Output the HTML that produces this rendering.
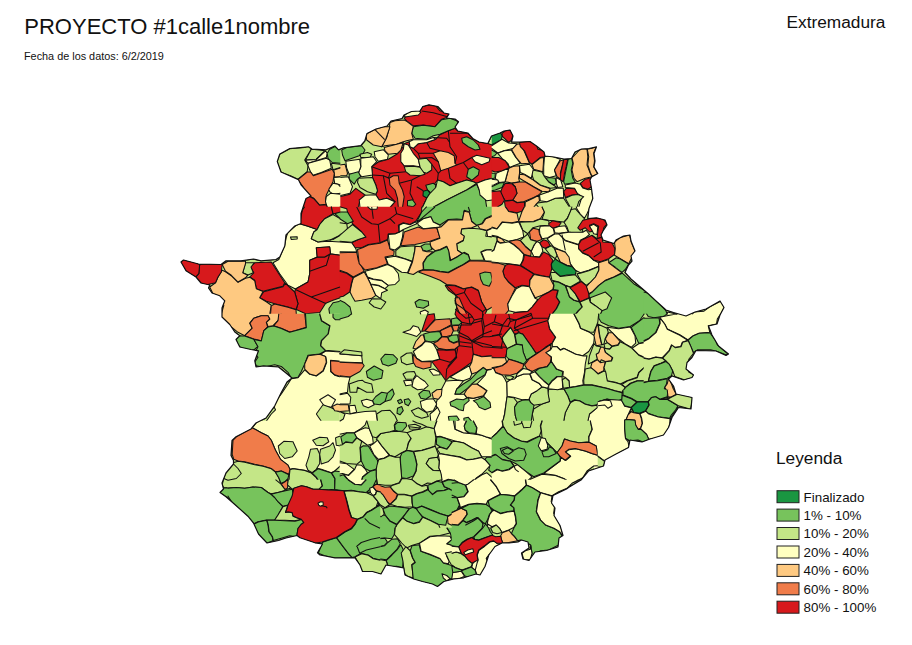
<!DOCTYPE html>
<html><head><meta charset="utf-8"><title>Extremadura</title>
<style>
html,body{margin:0;padding:0;background:#fff;}
body{width:912px;height:645px;position:relative;overflow:hidden;font-family:"Liberation Sans",sans-serif;color:#111;}
.t{position:absolute;white-space:nowrap;line-height:1;}
#title{left:24.3px;top:15.9px;font-size:22px;}
#date{left:24px;top:51.3px;font-size:10.85px;}
#reg{left:786.5px;top:13.6px;font-size:17.3px;}
#leg{left:776px;top:450.3px;font-size:17.3px;}
.li{left:803.6px;font-size:13.35px;}
</style></head><body>
<svg width="912" height="645" viewBox="0 0 912 645" style="position:absolute;left:0;top:0">
<defs><clipPath id="cp"><path d="M277.3 161.5 L279.8 154.0 L289.8 148.5 L308.5 146.8 L312.0 149.0 L326.0 149.8 L334.8 146.0 L338.5 149.8 L343.5 147.8 L361.0 145.5 L364.8 141.0 L367.0 133.5 L376.0 129.0 L387.0 126.0 L391.0 121.0 L402.0 118.5 L404.0 115.0 L411.5 111.5 L420.0 111.0 L422.8 106.5 L429.0 104.8 L437.8 106.5 L444.0 113.0 L449.0 114.0 L446.5 118.0 L455.0 119.0 L458.5 121.8 L455.0 127.0 L457.8 131.0 L467.8 133.0 L472.8 138.5 L479.0 142.0 L487.8 143.5 L491.5 136.0 L500.0 133.0 L504.0 131.0 L510.0 130.0 L513.0 136.0 L511.5 142.0 L519.5 142.0 L530.0 141.5 L536.5 146.0 L544.0 152.0 L545.0 156.0 L554.0 157.0 L564.0 159.0 L571.5 158.5 L575.0 152.0 L581.5 149.0 L589.0 148.5 L596.5 146.8 L594.0 153.5 L595.0 161.0 L594.0 167.0 L597.8 173.5 L591.5 177.0 L590.0 180.0 L591.5 188.5 L592.8 198.5 L589.0 208.5 L587.8 218.5 L596.5 217.8 L605.0 220.0 L607.0 225.0 L603.0 231.0 L601.0 235.0 L603.0 240.0 L614.0 243.5 L616.0 240.0 L623.5 236.0 L630.0 235.0 L631.0 241.0 L635.0 251.0 L631.0 256.0 L632.0 261.0 L628.5 265.0 L625.0 272.5 L631.0 279.0 L648.5 294.0 L656.0 301.0 L666.0 310.0 L673.5 312.5 L686.0 316.0 L695.0 312.0 L706.0 309.0 L720.0 301.0 L724.0 307.5 L720.0 315.0 L717.0 324.0 L708.5 326.0 L712.0 335.0 L718.5 346.0 L728.5 354.0 L726.0 355.5 L716.0 351.0 L696.0 350.5 L692.0 357.5 L687.0 362.5 L686.0 369.0 L693.5 375.0 L692.0 377.5 L683.5 380.0 L672.0 376.0 L668.5 379.0 L673.5 386.0 L676.0 394.0 L692.0 397.5 L691.0 409.0 L678.5 407.5 L672.0 417.5 L668.5 427.5 L663.5 435.0 L650.0 439.0 L642.0 442.0 L630.0 440.0 L628.5 447.5 L616.0 454.0 L605.0 460.0 L603.5 466.0 L588.5 471.0 L581.0 480.0 L568.5 487.5 L566.5 489.0 L553.0 495.5 L551.5 503.0 L555.0 508.0 L554.0 515.5 L560.0 525.5 L563.0 535.5 L559.0 538.0 L558.0 547.0 L546.5 550.5 L535.0 552.0 L529.0 560.5 L523.0 559.0 L521.5 553.0 L529.0 548.0 L528.0 542.0 L521.5 540.0 L518.0 542.0 L509.0 543.0 L502.5 542.8 L495.0 546.5 L488.8 555.0 L485.0 566.5 L480.0 575.0 L476.0 574.0 L463.8 577.8 L453.8 579.0 L443.8 581.5 L437.5 586.5 L432.5 584.0 L422.5 581.5 L413.8 579.0 L405.0 575.0 L403.8 567.8 L395.0 566.5 L386.0 565.0 L381.0 574.0 L372.5 571.5 L362.5 571.5 L360.0 565.0 L355.0 557.8 L335.0 557.8 L320.0 555.0 L317.5 552.8 L322.5 544.0 L315.0 542.8 L300.0 537.8 L297.0 535.5 L286.0 538.0 L278.5 540.5 L267.0 543.0 L258.5 534.0 L253.5 523.0 L248.5 516.8 L236.0 505.5 L226.0 496.8 L220.0 492.5 L223.5 489.0 L222.0 483.0 L226.0 473.0 L233.5 464.0 L233.5 460.5 L231.0 455.5 L232.0 440.5 L236.0 436.8 L251.0 429.0 L256.0 423.0 L266.0 418.0 L274.8 405.8 L281.0 393.0 L287.0 382.0 L292.0 378.0 L286.0 373.0 L278.5 367.0 L263.5 365.8 L256.0 367.0 L254.8 360.8 L258.5 350.8 L251.0 349.5 L239.8 347.0 L236.0 339.5 L239.8 335.8 L234.8 332.0 L229.8 324.5 L222.0 317.0 L222.0 308.0 L224.8 300.8 L219.8 295.8 L212.0 293.0 L208.5 288.0 L209.8 285.0 L201.0 283.0 L196.0 277.0 L186.0 270.8 L181.0 262.0 L183.5 260.0 L198.5 264.0 L221.0 264.5 L226.0 260.8 L241.0 260.8 L253.5 259.0 L261.0 260.8 L276.0 259.5 L279.8 257.0 L284.8 246.0 L286.0 234.8 L294.8 226.0 L301.0 223.5 L301.0 213.5 L306.0 198.5 L311.0 196.0 L301.0 184.8 L298.5 179.8 L281.0 172.0Z"/></clipPath></defs>
<g stroke="#111" stroke-width="1.05" stroke-linejoin="round"><g clip-path="url(#cp)">
<path d="M277.3 161.5 L279.8 154.0 L289.8 148.5 L308.5 146.8 L312.0 149.0 L326.0 149.8 L334.8 146.0 L338.5 149.8 L343.5 147.8 L361.0 145.5 L364.8 141.0 L367.0 133.5 L376.0 129.0 L387.0 126.0 L391.0 121.0 L402.0 118.5 L404.0 115.0 L411.5 111.5 L420.0 111.0 L422.8 106.5 L429.0 104.8 L437.8 106.5 L444.0 113.0 L449.0 114.0 L446.5 118.0 L455.0 119.0 L458.5 121.8 L455.0 127.0 L457.8 131.0 L467.8 133.0 L472.8 138.5 L479.0 142.0 L487.8 143.5 L491.5 136.0 L500.0 133.0 L504.0 131.0 L510.0 130.0 L513.0 136.0 L511.5 142.0 L519.5 142.0 L530.0 141.5 L536.5 146.0 L544.0 152.0 L545.0 156.0 L554.0 157.0 L564.0 159.0 L571.5 158.5 L575.0 152.0 L581.5 149.0 L589.0 148.5 L596.5 146.8 L594.0 153.5 L595.0 161.0 L594.0 167.0 L597.8 173.5 L591.5 177.0 L590.0 180.0 L591.5 188.5 L592.8 198.5 L589.0 208.5 L587.8 218.5 L596.5 217.8 L605.0 220.0 L607.0 225.0 L603.0 231.0 L601.0 235.0 L603.0 240.0 L614.0 243.5 L616.0 240.0 L623.5 236.0 L630.0 235.0 L631.0 241.0 L635.0 251.0 L631.0 256.0 L632.0 261.0 L628.5 265.0 L625.0 272.5 L631.0 279.0 L648.5 294.0 L656.0 301.0 L666.0 310.0 L673.5 312.5 L686.0 316.0 L695.0 312.0 L706.0 309.0 L720.0 301.0 L724.0 307.5 L720.0 315.0 L717.0 324.0 L708.5 326.0 L712.0 335.0 L718.5 346.0 L728.5 354.0 L726.0 355.5 L716.0 351.0 L696.0 350.5 L692.0 357.5 L687.0 362.5 L686.0 369.0 L693.5 375.0 L692.0 377.5 L683.5 380.0 L672.0 376.0 L668.5 379.0 L673.5 386.0 L676.0 394.0 L692.0 397.5 L691.0 409.0 L678.5 407.5 L672.0 417.5 L668.5 427.5 L663.5 435.0 L650.0 439.0 L642.0 442.0 L630.0 440.0 L628.5 447.5 L616.0 454.0 L605.0 460.0 L603.5 466.0 L588.5 471.0 L581.0 480.0 L568.5 487.5 L566.5 489.0 L553.0 495.5 L551.5 503.0 L555.0 508.0 L554.0 515.5 L560.0 525.5 L563.0 535.5 L559.0 538.0 L558.0 547.0 L546.5 550.5 L535.0 552.0 L529.0 560.5 L523.0 559.0 L521.5 553.0 L529.0 548.0 L528.0 542.0 L521.5 540.0 L518.0 542.0 L509.0 543.0 L502.5 542.8 L495.0 546.5 L488.8 555.0 L485.0 566.5 L480.0 575.0 L476.0 574.0 L463.8 577.8 L453.8 579.0 L443.8 581.5 L437.5 586.5 L432.5 584.0 L422.5 581.5 L413.8 579.0 L405.0 575.0 L403.8 567.8 L395.0 566.5 L386.0 565.0 L381.0 574.0 L372.5 571.5 L362.5 571.5 L360.0 565.0 L355.0 557.8 L335.0 557.8 L320.0 555.0 L317.5 552.8 L322.5 544.0 L315.0 542.8 L300.0 537.8 L297.0 535.5 L286.0 538.0 L278.5 540.5 L267.0 543.0 L258.5 534.0 L253.5 523.0 L248.5 516.8 L236.0 505.5 L226.0 496.8 L220.0 492.5 L223.5 489.0 L222.0 483.0 L226.0 473.0 L233.5 464.0 L233.5 460.5 L231.0 455.5 L232.0 440.5 L236.0 436.8 L251.0 429.0 L256.0 423.0 L266.0 418.0 L274.8 405.8 L281.0 393.0 L287.0 382.0 L292.0 378.0 L286.0 373.0 L278.5 367.0 L263.5 365.8 L256.0 367.0 L254.8 360.8 L258.5 350.8 L251.0 349.5 L239.8 347.0 L236.0 339.5 L239.8 335.8 L234.8 332.0 L229.8 324.5 L222.0 317.0 L222.0 308.0 L224.8 300.8 L219.8 295.8 L212.0 293.0 L208.5 288.0 L209.8 285.0 L201.0 283.0 L196.0 277.0 L186.0 270.8 L181.0 262.0 L183.5 260.0 L198.5 264.0 L221.0 264.5 L226.0 260.8 L241.0 260.8 L253.5 259.0 L261.0 260.8 L276.0 259.5 L279.8 257.0 L284.8 246.0 L286.0 234.8 L294.8 226.0 L301.0 223.5 L301.0 213.5 L306.0 198.5 L311.0 196.0 L301.0 184.8 L298.5 179.8 L281.0 172.0Z" fill="#c4e687"/>
<path d="M594.0 453.0 L608.0 453.0 L608.0 470.0 L594.0 470.0Z" fill="#ffffc0" stroke="none"/>
<path d="" fill="none"/>
<path d="M371.7 166.7 L378.3 162.0 L388.3 159.2 L397.5 153.7 L403.0 147.0 L403.8 143.7 L409.2 141.7 L410.0 146.7 L413.3 148.3 L418.3 143.7 L426.7 142.5 L435.8 139.2 L440.0 134.7 L448.3 130.8 L455.0 128.3 L457.8 131.0 L467.8 133.0 L472.8 138.5 L479.0 142.0 L487.8 143.5 L492.3 145.0 L492.3 178.3 L485.0 180.0 L476.7 183.3 L473.3 181.7 L466.7 180.0 L456.7 183.3 L450.0 185.8 L443.3 181.7 L437.5 180.0 L435.0 183.3 L435.8 187.5 L430.0 193.3 L426.7 198.3 L422.5 207.3 L390.0 207.3 L395.0 201.7 L386.7 198.3 L379.2 200.0 L375.8 194.7 L377.5 190.8 L375.8 185.0 L372.5 177.5 L372.5 175.0Z" fill="#d7191c" stroke="none"/>
<path d="M371.7 166.7 L378.3 162.0 L388.3 159.2 L397.5 153.7 L403.0 147.0 L403.8 143.7 L409.2 141.7 L410.0 146.7 L413.3 148.3 L418.3 143.7 L426.7 142.5 L435.8 139.2 L440.0 134.7 L448.3 130.8 L455.0 128.3 L457.8 131.0 L467.8 133.0 L472.8 138.5 L479.0 142.0 L487.8 143.5 L492.3 145.0M492.3 178.3 L485.0 180.0 L476.7 183.3 L473.3 181.7 L466.7 180.0 L456.7 183.3 L450.0 185.8 L443.3 181.7 L437.5 180.0 L435.0 183.3 L435.8 187.5 L430.0 193.3 L426.7 198.3 L422.5 207.3M390.0 207.3 L395.0 201.7 L386.7 198.3 L379.2 200.0 L375.8 194.7 L377.5 190.8 L375.8 185.0 L372.5 177.5 L372.5 175.0 L371.7 166.7" fill="none"/>
<path d="M404.2 118.3 L406.7 115.8 L420.0 110.8 L422.5 106.7 L428.3 104.7 L435.8 105.8 L440.0 110.8 L449.2 113.3 L446.7 117.5 L441.7 119.2 L435.0 126.7 L423.3 125.0 L413.3 125.8 L406.7 120.8Z" fill="#d7191c"/>
<path d="M403.3 116.7 L408.3 112.0 L418.3 110.3 L420.8 112.5 L418.3 115.0 L406.7 116.7Z" fill="#ffffc0"/>
<path d="M413.3 126.7 L423.3 125.3 L435.0 126.7 L441.7 119.7 L450.0 118.3 L456.7 120.8 L458.3 123.3 L455.0 128.3 L448.3 130.8 L440.0 134.2 L433.3 135.8 L426.7 139.2 L415.0 138.3 L411.7 133.3Z" fill="#77c35c"/>
<path d="M390.0 122.5 L395.0 120.8 L404.2 120.0 L406.7 121.3 L413.3 126.3 L411.7 133.3 L413.3 139.2 L406.7 140.8 L403.3 141.7 L396.7 144.2 L385.0 145.8 L381.7 146.7 L386.7 137.5 L389.2 128.3Z" fill="#fec981"/>
<path d="M365.8 134.2 L375.0 129.2 L383.3 126.7 L390.0 126.7 L389.2 129.2 L385.8 139.2 L381.7 146.7 L373.3 145.0 L366.7 140.0Z" fill="#fec981"/>
<path d="M384.2 147.5 L396.7 144.2 L403.3 142.5 L400.8 150.0 L397.5 153.3 L388.3 154.2 L385.0 150.8Z" fill="#fec981"/>
<path d="M409.2 141.7 L413.3 139.7 L426.7 139.7 L433.3 137.5 L435.8 139.2 L426.7 142.5 L418.3 143.7 L413.3 148.3 L410.0 146.7Z" fill="#ffffc0"/>
<path d="M404.2 143.7 L408.3 145.0 L413.3 153.3 L418.3 159.2 L420.0 166.7 L413.3 165.8 L404.2 165.8 L400.8 161.7 L400.8 153.3 L403.3 149.2Z" fill="#ffffc0"/>
<path d="M418.3 159.2 L426.7 158.3 L431.7 164.2 L431.7 170.0 L426.7 173.3 L421.7 171.7 L420.0 166.7Z" fill="#c4e687"/>
<path d="M404.2 166.7 L413.3 166.3 L420.0 167.2 L425.0 174.2 L420.0 175.8 L410.0 175.0 L405.8 171.7Z" fill="#c4e687"/>
<path d="M433.3 153.3 L440.0 150.8 L448.3 152.5 L454.2 155.8 L455.0 163.3 L456.7 165.0 L448.3 168.3 L440.8 170.8 L438.3 161.7Z" fill="#fec981"/>
<path d="M341.7 150.0 L346.7 147.5 L361.7 145.8 L365.0 150.0 L363.3 153.3 L359.2 155.8 L345.0 160.8 L342.5 155.0Z" fill="#77c35c"/>
<path d="M360.0 154.2 L367.5 152.5 L371.7 154.2 L370.0 157.5 L360.8 157.5Z" fill="#c4e687"/>
<path d="M374.2 151.7 L383.3 149.7 L388.3 155.0 L387.5 159.2 L378.3 161.3 L375.0 156.7Z" fill="#ffffc0"/>
<path d="M360.8 158.3 L373.3 156.7 L376.7 161.7 L371.7 166.7 L372.5 175.0 L361.7 176.7 L358.3 173.3 L360.8 166.7Z" fill="#ffffc0"/>
<path d="M345.8 161.3 L359.7 159.2 L360.8 166.7 L358.3 173.3 L349.2 174.2 L346.7 168.3Z" fill="#ffffc0"/>
<path d="M339.7 165.0 L345.0 164.2 L347.5 173.3 L346.7 175.8 L339.7 175.8Z" fill="#fec981" stroke="none"/>
<path d="M339.7 165.0 L345.0 164.2 L347.5 173.3 L346.7 175.8 L339.7 175.8" fill="none"/>
<path d="M349.2 174.2 L358.3 171.7 L360.8 176.7 L356.7 180.0 L354.2 184.2 L349.2 179.2Z" fill="#77c35c"/>
<path d="M358.3 178.3 L372.5 177.5 L375.8 185.0 L377.5 190.8 L375.8 194.2 L367.5 191.7 L360.0 187.5 L357.5 182.5Z" fill="#c4e687"/>
<path d="M339.7 177.5 L348.3 176.7 L352.5 186.7 L350.0 193.3 L339.7 195.8Z" fill="#ffffc0" stroke="none"/>
<path d="M339.7 177.5 L348.3 176.7 L352.5 186.7 L350.0 193.3 L339.7 195.8" fill="none"/>
<path d="M339.7 196.7 L350.0 194.2 L355.8 188.3 L365.0 195.0 L360.0 200.0 L358.3 207.3 L339.7 207.3Z" fill="#d7191c" stroke="none"/>
<path d="M339.7 196.7 L350.0 194.2 L355.8 188.3 L365.0 195.0 L360.0 200.0 L358.3 207.3" fill="none"/>
<path d="M365.0 195.3 L375.8 194.7 L379.2 200.0 L386.7 198.3 L395.0 201.7 L390.0 207.3 L360.0 207.3 L359.2 200.0Z" fill="#ffffc0" stroke="none"/>
<path d="M365.0 195.3 L375.8 194.7 L379.2 200.0 L386.7 198.3 L395.0 201.7 L390.0 207.3M360.0 207.3 L359.2 200.0 L365.0 195.3" fill="none"/>
<path d="M461.7 138.3 L466.7 136.7 L473.3 140.0 L478.3 145.0 L480.0 149.2 L475.0 150.0 L468.3 146.7 L462.5 142.5Z" fill="#77c35c"/>
<path d="M471.7 157.5 L476.7 155.3 L490.0 158.3 L489.2 161.7 L481.7 164.7 L475.0 161.7Z" fill="#ffffc0"/>
<path d="M468.3 169.2 L473.3 166.7 L479.2 170.0 L478.3 175.0 L471.7 180.3 L466.7 176.7Z" fill="#77c35c"/>
<path d="M389.2 178.3 L393.3 175.8 L398.3 175.8 L399.2 183.3 L402.5 190.0 L404.2 196.7 L402.5 207.3 L398.3 207.3 L397.5 198.3 L395.0 190.0 L390.0 185.0Z" fill="#f07c4a" stroke="none"/>
<path d="M389.2 178.3 L393.3 175.8 L398.3 175.8 L399.2 183.3 L402.5 190.0 L404.2 196.7 L402.5 207.3M398.3 207.3 L397.5 198.3 L395.0 190.0 L390.0 185.0 L389.2 178.3" fill="none"/>
<path d="M425.8 185.3 L433.3 183.3 L435.8 185.0 L435.0 190.8 L430.8 193.0 L427.5 190.0Z" fill="#77c35c"/>
<path d="M423.3 191.3 L427.5 190.0 L430.0 193.3 L426.7 198.0 L423.0 195.8Z" fill="#1a9641"/>
<path d="M407.5 200.8 L412.5 199.7 L415.8 204.2 L413.3 206.7 L407.5 205.8Z" fill="#77c35c"/>
<path d="M435.8 187.5 L437.5 180.0 L443.3 181.7 L450.0 185.8 L456.7 183.3 L466.7 180.0 L473.3 181.7 L476.7 183.3 L466.7 190.0 L456.7 195.0 L446.7 200.0 L433.3 207.3 L422.5 207.3 L426.7 198.3 L430.0 193.3Z" fill="#c4e687" stroke="none"/>
<path d="M435.8 187.5 L437.5 180.0 L443.3 181.7 L450.0 185.8 L456.7 183.3 L466.7 180.0 L473.3 181.7 L476.7 183.3 L466.7 190.0 L456.7 195.0 L446.7 200.0 L433.3 207.3M422.5 207.3 L426.7 198.3 L430.0 193.3 L435.8 187.5" fill="none"/>
<path d="M433.3 207.3 L446.7 200.0 L456.7 195.0 L466.7 190.0 L476.7 184.2 L479.2 190.0 L485.0 196.7 L486.7 207.3Z" fill="#77c35c" stroke="none"/>
<path d="M433.3 207.3 L446.7 200.0 L456.7 195.0 L466.7 190.0 L476.7 184.2 L479.2 190.0 L485.0 196.7 L486.7 207.3" fill="none"/>
<path d="M476.7 183.3 L485.0 180.0 L492.3 178.3 L492.3 200.0 L486.7 200.8 L480.0 195.0 L479.2 190.0Z" fill="#ffffc0" stroke="none"/>
<path d="M476.7 183.3 L485.0 180.0 L492.3 178.3M492.3 200.0 L486.7 200.8 L480.0 195.0 L479.2 190.0 L476.7 183.3" fill="none"/>
<path d="M276.8 161.7 L279.7 154.2 L289.7 148.7 L304.7 147.5 L308.0 145.8 L311.3 149.2 L304.7 160.0 L308.0 165.8 L307.2 171.7 L298.0 179.2 L290.5 175.8 L281.3 172.5 L278.8 166.7Z" fill="#c4e687"/>
<path d="M311.3 149.2 L319.7 150.0 L324.7 150.8 L316.3 159.2 L305.5 160.0Z" fill="#c4e687"/>
<path d="M305.5 160.3 L316.3 159.5 L325.5 150.8 L327.2 153.3 L326.3 157.5 L308.0 163.3Z" fill="#ffffc0"/>
<path d="M308.0 165.8 L308.3 163.3 L326.3 158.3 L329.7 160.0 L331.3 168.3 L321.3 172.5 L313.0 175.3 L310.5 171.7Z" fill="#ffffc0"/>
<path d="M327.2 153.3 L329.7 149.2 L335.5 146.3 L340.3 150.0 L340.3 163.3 L332.2 162.5 L328.0 158.3Z" fill="#77c35c" stroke="none"/>
<path d="M327.2 153.3 L329.7 149.2 L335.5 146.3 L340.3 150.0M340.3 163.3 L332.2 162.5 L328.0 158.3 L327.2 153.3" fill="none"/>
<path d="M331.3 163.3 L340.3 164.2 L340.3 167.5 L333.0 169.7Z" fill="#c4e687" stroke="none"/>
<path d="M331.3 163.3 L340.3 164.2M340.3 167.5 L333.0 169.7 L331.3 163.3" fill="none"/>
<path d="M333.8 170.0 L340.3 168.0 L340.3 176.7 L334.7 177.0Z" fill="#fec981" stroke="none"/>
<path d="M333.8 170.0 L340.3 168.0M340.3 176.7 L334.7 177.0 L333.8 170.0" fill="none"/>
<path d="M298.0 179.7 L307.2 172.0 L310.5 172.0 L313.3 175.8 L321.3 173.0 L332.2 169.2 L334.3 173.3 L333.0 181.7 L329.7 188.3 L326.3 195.0 L325.5 200.0 L326.3 204.2 L319.7 205.0 L313.8 198.3 L307.2 195.0 L303.0 186.7Z" fill="#f07c4a"/>
<path d="M333.8 177.5 L340.3 177.0 L340.3 185.0 L334.7 183.3Z" fill="#ffffc0" stroke="none"/>
<path d="M333.8 177.5 L340.3 177.0M340.3 185.0 L334.7 183.3 L333.8 177.5" fill="none"/>
<path d="M328.8 189.2 L333.0 183.3 L338.0 184.2 L340.3 186.7 L340.3 193.3 L333.0 194.2 L329.7 191.7Z" fill="#ffffc0" stroke="none"/>
<path d="M328.8 189.2 L333.0 183.3 L338.0 184.2 L340.3 186.7M340.3 193.3 L333.0 194.2 L329.7 191.7 L328.8 189.2" fill="none"/>
<path d="M326.3 196.7 L330.5 193.3 L340.3 194.2 L340.3 207.3 L327.2 207.3 L325.5 201.7Z" fill="#ffffc0" stroke="none"/>
<path d="M326.3 196.7 L330.5 193.3 L340.3 194.2M327.2 207.3 L325.5 201.7 L326.3 196.7" fill="none"/>
<path d="M304.7 198.3 L307.2 195.3 L313.8 198.7 L319.7 205.3 L326.3 204.7 L327.2 207.3 L303.0 207.3Z" fill="#d7191c" stroke="none"/>
<path d="M304.7 198.3 L307.2 195.3 L313.8 198.7 L319.7 205.3 L326.3 204.7 L327.2 207.3M303.0 207.3 L304.7 198.3" fill="none"/>
<path d="M491.7 135.8 L500.3 132.5 L502.3 135.8 L501.2 140.0 L493.7 143.7 L491.7 144.7Z" fill="#1a9641" stroke="none"/>
<path d="M491.7 135.8 L500.3 132.5 L502.3 135.8 L501.2 140.0 L493.7 143.7 L491.7 144.7" fill="none"/>
<path d="M502.0 133.3 L505.3 130.8 L511.2 130.0 L512.8 135.0 L511.7 140.0 L508.7 142.5 L505.3 139.2 L502.3 136.3Z" fill="#d7191c"/>
<path d="M491.7 145.8 L502.0 139.2 L508.7 143.0 L517.0 143.7 L513.7 148.3 L503.7 150.8 L497.8 153.0 L491.7 148.3Z" fill="#ffffc0" stroke="none"/>
<path d="M491.7 145.8 L502.0 139.2 L508.7 143.0 L517.0 143.7 L513.7 148.3 L503.7 150.8 L497.8 153.0 L491.7 148.3" fill="none"/>
<path d="M491.7 150.0 L497.0 153.0 L494.5 155.8 L491.7 156.7Z" fill="#77c35c" stroke="none"/>
<path d="M491.7 150.0 L497.0 153.0 L494.5 155.8 L491.7 156.7" fill="none"/>
<path d="M497.8 153.3 L504.5 150.8 L511.2 150.0 L515.3 156.7 L520.3 163.3 L513.7 165.8 L509.5 167.5 L507.8 163.3 L502.0 158.3Z" fill="#ffffc0"/>
<path d="M511.7 149.7 L517.0 144.2 L519.5 143.7 L523.7 150.0 L529.5 163.3 L521.2 163.7 L516.2 157.5Z" fill="#fec981"/>
<path d="M519.5 142.5 L529.5 141.3 L536.2 144.2 L537.8 149.2 L544.5 150.8 L545.0 156.7 L540.3 157.5 L532.0 164.2 L529.5 162.5 L524.5 150.8 L520.3 146.7Z" fill="#d7191c"/>
<path d="M532.0 164.7 L540.3 158.0 L543.7 157.5 L543.3 165.0 L542.8 171.7 L533.7 169.2Z" fill="#fec981"/>
<path d="M544.5 156.7 L550.3 155.8 L560.3 159.2 L554.5 170.0 L556.2 175.8 L549.5 177.5 L543.7 175.8 L543.7 166.7Z" fill="#ffffc0"/>
<path d="M554.5 170.0 L560.3 160.8 L563.7 160.0 L562.0 166.7 L560.3 173.3 L560.7 179.2 L557.0 176.7Z" fill="#f07c4a"/>
<path d="M563.7 159.7 L567.8 159.2 L566.2 166.7 L564.5 173.3 L563.3 181.7 L560.3 179.7 L560.7 173.3 L562.3 166.7Z" fill="#d7191c"/>
<path d="M568.3 159.2 L571.7 158.3 L572.8 163.3 L571.2 170.0 L572.8 178.3 L575.3 182.5 L564.5 184.2 L563.7 181.7 L565.3 173.3 L566.7 166.7Z" fill="#77c35c"/>
<path d="M572.0 158.0 L579.5 150.0 L582.0 148.7 L587.0 149.2 L587.8 156.7 L587.0 165.0 L590.3 173.3 L592.0 176.7 L585.3 178.3 L577.0 181.7 L574.0 178.3 L572.0 170.0 L573.3 163.3Z" fill="#fec981"/>
<path d="M587.3 149.2 L592.0 148.3 L596.2 146.7 L593.7 153.0 L594.5 160.8 L593.7 166.7 L597.8 174.2 L592.0 176.3 L590.3 172.5 L587.8 165.0 L588.7 156.7Z" fill="#fec981"/>
<path d="M580.3 183.3 L585.3 179.2 L592.0 177.5 L591.7 186.7 L587.8 189.2 L582.8 187.5Z" fill="#d7191c"/>
<path d="M565.3 185.0 L575.3 183.0 L580.3 184.2 L582.8 188.0 L588.3 189.7 L592.0 189.2 L592.8 200.0 L590.3 207.3 L578.7 207.3 L582.0 196.7 L577.0 193.3 L574.5 188.3 L565.3 187.5Z" fill="#ffffc0" stroke="none"/>
<path d="M565.3 185.0 L575.3 183.0 L580.3 184.2 L582.8 188.0 L588.3 189.7 L592.0 189.2 L592.8 200.0 L590.3 207.3M578.7 207.3 L582.0 196.7 L577.0 193.3 L574.5 188.3 L565.3 187.5 L565.3 185.0" fill="none"/>
<path d="M563.7 191.7 L566.2 188.3 L574.5 188.7 L577.8 194.2 L572.0 195.0 L565.3 197.5Z" fill="#d7191c"/>
<path d="M565.3 198.3 L572.0 195.3 L577.8 194.5 L583.7 196.7 L578.7 201.7 L577.0 207.3 L570.3 207.3Z" fill="#c4e687" stroke="none"/>
<path d="M565.3 198.3 L572.0 195.3 L577.8 194.5 L583.7 196.7 L578.7 201.7 L577.0 207.3M570.3 207.3 L565.3 198.3" fill="none"/>
<path d="M535.3 203.3 L547.0 201.7 L555.3 198.3 L563.7 198.3 L569.5 207.3 L538.7 207.3Z" fill="#c4e687" stroke="none"/>
<path d="M535.3 203.3 L547.0 201.7 L555.3 198.3 L563.7 198.3 L569.5 207.3M538.7 207.3 L535.3 203.3" fill="none"/>
<path d="M539.5 195.0 L548.7 191.7 L557.0 188.3 L563.3 188.3 L563.7 197.5 L555.3 198.3 L547.0 201.7 L540.3 200.8Z" fill="#ffffc0"/>
<path d="M556.2 177.5 L560.7 180.0 L562.8 186.7 L557.8 187.5 L556.2 183.3Z" fill="#ffffc0"/>
<path d="M545.3 178.3 L549.5 177.5 L555.3 178.3 L556.2 183.3 L553.7 185.0 L548.7 181.7Z" fill="#77c35c"/>
<path d="M532.8 170.0 L542.0 172.0 L544.5 176.7 L548.7 182.0 L553.7 185.3 L557.0 187.5 L550.3 188.3 L540.3 185.0 L533.7 180.0 L532.0 175.0Z" fill="#c4e687"/>
<path d="M519.5 165.8 L529.5 164.2 L533.3 169.2 L532.0 175.0 L531.2 178.3 L524.5 174.2 L520.3 172.5Z" fill="#ffffc0"/>
<path d="M519.5 174.2 L524.5 174.7 L532.0 179.2 L540.3 185.3 L550.3 188.7 L548.7 191.7 L542.0 191.3 L533.7 186.7 L525.3 181.7 L519.5 178.3Z" fill="#fec981"/>
<path d="M508.7 168.3 L513.7 166.3 L519.5 165.8 L519.5 173.3 L518.7 178.3 L519.5 181.7 L512.0 183.0 L505.3 181.7 L507.0 175.0Z" fill="#fec981"/>
<path d="M496.2 173.3 L502.0 170.8 L508.7 168.3 L506.7 175.3 L505.0 181.7 L499.5 182.5 L495.3 178.3Z" fill="#ffffc0"/>
<path d="M491.7 157.5 L498.7 157.5 L505.3 160.8 L509.5 167.5 L502.0 170.8 L495.3 172.0 L491.7 170.8Z" fill="#d7191c" stroke="none"/>
<path d="M491.7 157.5 L498.7 157.5 L505.3 160.8 L509.5 167.5 L502.0 170.8 L495.3 172.0 L491.7 170.8" fill="none"/>
<path d="M491.7 173.3 L495.3 173.3 L495.0 178.0 L491.7 178.7Z" fill="#77c35c" stroke="none"/>
<path d="M491.7 173.3 L495.3 173.3 L495.0 178.0 L491.7 178.7" fill="none"/>
<path d="M491.7 179.2 L497.8 180.0 L498.7 182.5 L493.7 185.0 L491.7 185.3Z" fill="#ffffc0" stroke="none"/>
<path d="M491.7 179.2 L497.8 180.0 L498.7 182.5 L493.7 185.0 L491.7 185.3" fill="none"/>
<path d="M491.7 186.7 L499.5 183.0 L504.5 182.5 L502.0 187.5 L495.3 190.0 L491.7 190.8Z" fill="#77c35c" stroke="none"/>
<path d="M491.7 186.7 L499.5 183.0 L504.5 182.5 L502.0 187.5 L495.3 190.0 L491.7 190.8" fill="none"/>
<path d="M512.0 183.3 L519.5 182.0 L525.3 182.0 L533.7 187.0 L542.0 191.7 L538.7 195.0 L533.7 197.5 L527.8 200.0 L523.7 201.7 L517.0 202.5 L512.8 200.0 L517.0 193.3 L515.3 186.7Z" fill="#f07c4a"/>
<path d="M502.0 188.3 L505.3 183.3 L511.7 183.7 L515.3 187.0 L517.0 193.3 L512.8 200.0 L505.3 200.8 L500.3 193.3Z" fill="#d7191c"/>
<path d="M491.7 191.7 L500.3 190.8 L504.5 200.0 L502.0 204.2 L497.0 207.3 L491.7 207.3Z" fill="#d7191c" stroke="none"/>
<path d="M491.7 191.7 L500.3 190.8 L504.5 200.0 L502.0 204.2 L497.0 207.3" fill="none"/>
<path d="M504.5 201.3 L512.8 200.3 L517.0 202.8 L524.5 202.0 L524.5 207.3 L505.3 207.3Z" fill="#d7191c" stroke="none"/>
<path d="M504.5 201.3 L512.8 200.3 L517.0 202.8 L524.5 202.0 L524.5 207.3M505.3 207.3 L504.5 201.3" fill="none"/>
<path d="M525.3 202.0 L533.7 198.0 L538.7 195.3 L539.5 200.8 L536.2 204.2 L533.7 207.3 L525.0 207.3Z" fill="#fec981" stroke="none"/>
<path d="M525.3 202.0 L533.7 198.0 L538.7 195.3 L539.5 200.8 L536.2 204.2 L533.7 207.3M525.0 207.3 L525.3 202.0" fill="none"/>
<path d="M288.0 232.0 L296.3 225.3 L299.7 223.7 L308.0 226.2 L317.2 229.5 L313.8 232.0 L311.3 238.7 L318.0 242.0 L328.0 241.2 L340.3 242.0 L340.3 255.3 L330.5 253.7 L329.7 247.0 L316.3 247.8 L317.2 257.0 L309.7 260.3 L309.7 273.7 L308.0 282.0 L295.5 289.0 L288.0 285.3 L279.7 273.7 L273.0 262.8 L278.8 259.5 L284.7 245.3 L286.3 237.0Z" fill="#ffffc0" stroke="none"/>
<path d="M288.0 232.0 L296.3 225.3 L299.7 223.7 L308.0 226.2 L317.2 229.5 L313.8 232.0 L311.3 238.7 L318.0 242.0 L328.0 241.2 L340.3 242.0M340.3 255.3 L330.5 253.7 L329.7 247.0 L316.3 247.8 L317.2 257.0 L309.7 260.3 L309.7 273.7 L308.0 282.0 L295.5 289.0 L288.0 285.3 L279.7 273.7 L273.0 262.8 L278.8 259.5 L284.7 245.3 L286.3 237.0 L288.0 232.0" fill="none"/>
<path d="M299.7 223.7 L302.2 210.3 L304.7 206.7 L331.3 206.7 L333.0 213.7 L324.7 218.7 L319.7 224.5 L317.2 229.5 L308.0 226.2Z" fill="#d7191c" stroke="none"/>
<path d="M299.7 223.7 L302.2 210.3 L304.7 206.7M331.3 206.7 L333.0 213.7 L324.7 218.7 L319.7 224.5 L317.2 229.5 L308.0 226.2 L299.7 223.7" fill="none"/>
<path d="M317.2 229.5 L319.7 224.5 L324.7 218.7 L333.0 214.5 L340.3 218.7 L340.3 235.3 L333.0 239.5 L328.0 240.3 L318.0 242.0 L311.3 238.7 L313.8 232.0Z" fill="#c4e687" stroke="none"/>
<path d="M317.2 229.5 L319.7 224.5 L324.7 218.7 L333.0 214.5 L340.3 218.7M340.3 235.3 L333.0 239.5 L328.0 240.3 L318.0 242.0 L311.3 238.7 L313.8 232.0 L317.2 229.5" fill="none"/>
<path d="M290.5 237.0 L297.2 236.7 L297.2 239.0 L291.3 239.5Z" fill="#c4e687"/>
<path d="M309.7 260.3 L317.2 257.3 L324.7 257.0 L330.5 254.0 L340.3 255.3 L340.3 297.8 L333.0 300.3 L325.7 303.3 L319.8 312.5 L305.7 313.7 L296.3 309.5 L298.0 303.7 L294.7 292.0 L295.5 289.0 L308.0 282.0 L309.7 273.7Z" fill="#d7191c" stroke="none"/>
<path d="M309.7 260.3 L317.2 257.3 L324.7 257.0 L330.5 254.0 L340.3 255.3M340.3 297.8 L333.0 300.3 L325.7 303.3 L319.8 312.5 L305.7 313.7 L296.3 309.5 L298.0 303.7 L294.7 292.0 L295.5 289.0 L308.0 282.0 L309.7 273.7 L309.7 260.3" fill="none"/>
<path d="M316.3 247.8 L329.7 246.7 L330.5 253.7 L324.7 257.0 L317.2 257.0Z" fill="#d7191c"/>
<path d="M250.5 267.0 L254.7 262.8 L271.3 262.0 L278.8 273.7 L284.7 282.8 L283.0 286.2 L263.0 291.2 L256.3 288.7 L254.7 280.3 L249.7 277.0 L253.8 272.8Z" fill="#d7191c"/>
<path d="M259.7 297.8 L263.8 291.7 L283.0 286.7 L285.5 283.3 L294.7 292.0 L298.0 303.7 L296.0 309.5 L288.0 307.0 L274.7 303.7 L266.3 301.2Z" fill="#d7191c"/>
<path d="M245.5 262.8 L254.3 262.8 L251.0 267.0 L253.3 272.8 L248.0 275.0 L242.7 272.8Z" fill="#c4e687"/>
<path d="M209.7 287.0 L215.5 282.8 L218.0 277.0 L222.2 270.3 L225.5 271.7 L231.3 275.7 L238.0 282.3 L245.5 278.3 L250.0 277.3 L254.7 280.7 L256.3 288.7 L263.0 291.5 L259.7 297.8 L266.3 301.7 L271.3 305.3 L269.7 314.3 L221.3 314.3 L223.8 305.3 L221.3 297.8 L213.0 293.7Z" fill="#fec981" stroke="none"/>
<path d="M209.7 287.0 L215.5 282.8 L218.0 277.0 L222.2 270.3 L225.5 271.7 L231.3 275.7 L238.0 282.3 L245.5 278.3 L250.0 277.3 L254.7 280.7 L256.3 288.7 L263.0 291.5 L259.7 297.8 L266.3 301.7 L271.3 305.3 L269.7 314.3M221.3 314.3 L223.8 305.3 L221.3 297.8 L213.0 293.7 L209.7 287.0" fill="none"/>
<path d="M222.2 264.5 L228.0 261.2 L245.5 261.2 L245.5 263.7 L242.7 272.8 L247.7 275.3 L245.5 277.8 L238.0 282.0 L231.3 275.3 L225.5 271.2Z" fill="#fec981"/>
<path d="M187.7 260.7 L194.7 261.2 L199.7 264.5 L198.8 273.7 L195.5 277.0 L187.7 273.7Z" fill="#d7191c" stroke="none"/>
<path d="M187.7 260.7 L194.7 261.2 L199.7 264.5 L198.8 273.7 L195.5 277.0 L187.7 273.7" fill="none"/>
<path d="M199.7 264.5 L209.7 264.0 L222.2 264.5 L221.3 272.0 L218.0 277.0 L215.5 282.8 L204.7 285.3 L198.0 281.2 L196.0 277.0 L198.8 273.7Z" fill="#d7191c"/>
<path d="M271.3 305.7 L274.7 304.0 L288.0 307.3 L296.0 309.8 L296.3 314.3 L270.5 314.3Z" fill="#f07c4a" stroke="none"/>
<path d="M271.3 305.7 L274.7 304.0 L288.0 307.3 L296.0 309.8 L296.3 314.3M270.5 314.3 L271.3 305.7" fill="none"/>
<path d="M328.8 308.7 L333.0 302.8 L340.3 301.2 L340.3 314.3 L329.7 314.3Z" fill="#77c35c" stroke="none"/>
<path d="M328.8 308.7 L333.0 302.8 L340.3 301.2M329.7 314.3 L328.8 308.7" fill="none"/>
<path d="M339.7 206.7 L421.7 206.7 L421.7 212.0 L415.8 221.2 L410.0 224.5 L403.3 222.8 L398.3 225.3 L399.2 232.0 L395.0 233.7 L388.3 233.7 L387.5 239.5 L380.0 242.8 L368.3 244.5 L361.7 247.8 L355.0 247.8 L351.7 242.8 L358.3 239.5 L365.8 237.0 L361.7 232.0 L352.5 223.7 L347.5 212.0 L346.7 208.7Z" fill="#d7191c" stroke="none"/>
<path d="M421.7 206.7 L421.7 212.0 L415.8 221.2 L410.0 224.5 L403.3 222.8 L398.3 225.3 L399.2 232.0 L395.0 233.7 L388.3 233.7 L387.5 239.5 L380.0 242.8 L368.3 244.5 L361.7 247.8 L355.0 247.8 L351.7 242.8 L358.3 239.5 L365.8 237.0 L361.7 232.0 L352.5 223.7 L347.5 212.0 L346.7 208.7 L339.7 206.7" fill="none"/>
<path d="M367.5 206.7 L377.5 206.7 L377.0 209.0 L370.8 209.5Z" fill="#ffffc0" stroke="none"/>
<path d="M377.5 206.7 L377.0 209.0 L370.8 209.5 L367.5 206.7" fill="none"/>
<path d="M339.7 212.0 L347.5 212.0 L353.3 221.2 L347.5 223.7 L339.7 218.7Z" fill="#77c35c" stroke="none"/>
<path d="M339.7 212.0 L347.5 212.0 L353.3 221.2 L347.5 223.7 L339.7 218.7" fill="none"/>
<path d="M339.7 222.8 L346.7 223.7 L347.5 228.7 L343.3 233.7 L339.7 234.5Z" fill="#c4e687" stroke="none"/>
<path d="M339.7 222.8 L346.7 223.7 L347.5 228.7 L343.3 233.7 L339.7 234.5" fill="none"/>
<path d="M339.7 235.3 L347.5 228.7 L352.5 224.5 L361.7 232.0 L365.8 237.0 L358.3 239.5 L351.7 242.3 L339.7 241.2Z" fill="#c4e687" stroke="none"/>
<path d="M339.7 235.3 L347.5 228.7 L352.5 224.5 L361.7 232.0 L365.8 237.0 L358.3 239.5 L351.7 242.3 L339.7 241.2" fill="none"/>
<path d="M339.7 242.0 L351.7 242.8 L355.8 248.7 L356.7 252.0 L339.7 251.7Z" fill="#ffffc0" stroke="none"/>
<path d="M339.7 242.0 L351.7 242.8 L355.8 248.7 L356.7 252.0 L339.7 251.7" fill="none"/>
<path d="M339.7 252.8 L356.7 252.3 L358.3 260.3 L363.3 269.5 L364.2 271.2 L353.3 277.0 L346.7 272.8 L339.7 270.3Z" fill="#f07c4a" stroke="none"/>
<path d="M339.7 252.8 L356.7 252.3 L358.3 260.3 L363.3 269.5 L364.2 271.2 L353.3 277.0 L346.7 272.8 L339.7 270.3" fill="none"/>
<path d="M357.5 249.5 L362.5 247.8 L368.3 245.0 L380.0 243.3 L387.5 240.0 L390.0 248.7 L394.2 251.2 L393.7 255.3 L385.0 257.0 L387.5 263.7 L376.7 267.8 L365.0 270.0 L359.2 263.7Z" fill="#f07c4a"/>
<path d="M388.3 234.5 L395.0 234.0 L399.2 232.3 L403.3 229.5 L402.5 237.0 L400.0 246.2 L395.0 250.0 L390.0 248.7Z" fill="#ffffc0"/>
<path d="M399.2 225.3 L403.3 223.2 L410.0 224.8 L415.8 221.7 L416.7 223.7 L403.3 229.5 L399.2 232.0Z" fill="#ffffc0"/>
<path d="M416.7 222.0 L421.7 212.0 L426.7 206.7 L492.3 206.7 L492.3 215.3 L485.0 218.7 L481.7 223.7 L476.7 225.3 L471.7 221.2 L469.2 212.0 L464.2 210.3 L462.5 219.5 L456.7 219.0 L448.3 219.5 L440.0 225.0 L433.3 222.0 L430.8 216.7 L423.3 218.7Z" fill="#77c35c" stroke="none"/>
<path d="M416.7 222.0 L421.7 212.0 L426.7 206.7M492.3 215.3 L485.0 218.7 L481.7 223.7 L476.7 225.3 L471.7 221.2 L469.2 212.0 L464.2 210.3 L462.5 219.5 L456.7 219.0 L448.3 219.5 L440.0 225.0 L433.3 222.0 L430.8 216.7 L423.3 218.7 L416.7 222.0" fill="none"/>
<path d="M417.5 222.8 L423.3 218.7 L430.8 216.7 L433.3 222.0 L440.0 225.3 L440.0 227.0 L423.3 228.7 L418.3 225.0Z" fill="#ffffc0"/>
<path d="M400.8 245.7 L403.3 237.0 L404.2 232.0 L418.3 227.0 L423.3 229.0 L436.7 227.8 L440.0 237.8 L430.0 241.2 L415.0 244.5Z" fill="#f07c4a"/>
<path d="M461.7 229.0 L471.7 228.2 L480.0 229.0 L486.7 230.7 L485.8 236.2 L492.3 237.0 L492.3 249.5 L485.0 250.0 L480.8 252.0 L484.2 260.3 L470.0 260.3 L468.3 254.5 L464.2 252.3 L462.5 253.7 L457.5 250.3 L456.7 244.0 L463.3 240.7 L464.2 236.2 L460.8 233.7Z" fill="#c4e687" stroke="none"/>
<path d="M461.7 229.0 L471.7 228.2 L480.0 229.0 L486.7 230.7 L485.8 236.2 L492.3 237.0M492.3 249.5 L485.0 250.0 L480.8 252.0 L484.2 260.3 L470.0 260.3 L468.3 254.5 L464.2 252.3 L462.5 253.7 L457.5 250.3 L456.7 244.0 L463.3 240.7 L464.2 236.2 L460.8 233.7 L461.7 229.0" fill="none"/>
<path d="M430.8 247.0 L430.0 242.0 L440.0 238.3 L437.0 227.8 L440.8 227.0 L448.3 220.0 L462.5 220.0 L464.2 211.2 L469.2 212.3 L471.7 221.7 L476.7 225.7 L471.7 227.8 L461.7 228.7 L460.8 233.7 L464.2 236.2 L463.3 240.3 L456.7 243.7 L457.5 250.3 L462.5 253.7 L456.7 257.0 L450.8 260.3 L448.3 250.3 L446.7 246.2 L440.0 249.5 L435.0 250.7Z" fill="#fec981"/>
<path d="M477.5 225.3 L482.5 223.7 L485.8 218.7 L492.3 216.2 L492.3 227.8 L486.7 230.3 L480.0 228.7Z" fill="#fec981" stroke="none"/>
<path d="M477.5 225.3 L482.5 223.7 L485.8 218.7 L492.3 216.2M492.3 227.8 L486.7 230.3 L480.0 228.7 L477.5 225.3" fill="none"/>
<path d="M486.7 230.7 L492.3 228.3 L492.3 236.7 L487.5 236.2Z" fill="#ffffc0" stroke="none"/>
<path d="M486.7 230.7 L492.3 228.3M492.3 236.7 L487.5 236.2 L486.7 230.7" fill="none"/>
<path d="M481.3 252.0 L486.7 250.0 L492.3 250.0 L492.3 261.2 L485.0 260.7Z" fill="#ffffc0" stroke="none"/>
<path d="M481.3 252.0 L486.7 250.0 L492.3 250.0M492.3 261.2 L485.0 260.7 L481.3 252.0" fill="none"/>
<path d="M420.8 246.2 L425.0 244.0 L430.0 244.0 L432.0 249.5 L426.7 251.2 L422.5 250.0Z" fill="#77c35c"/>
<path d="M395.8 250.7 L400.8 246.7 L415.0 245.7 L414.7 250.3 L412.5 261.2 L405.0 258.7 L395.8 255.7Z" fill="#c4e687"/>
<path d="M385.8 257.8 L395.0 256.2 L405.0 259.0 L412.0 261.7 L407.5 272.8 L401.7 272.3 L393.3 267.0 L388.3 264.5Z" fill="#ffffc0"/>
<path d="M415.3 246.2 L421.3 246.7 L423.0 250.7 L427.0 251.7 L433.3 251.7 L426.7 257.0 L423.0 262.8 L423.3 269.5 L418.3 271.2 L413.3 274.5 L408.0 273.3 L412.5 262.0 L414.7 251.2Z" fill="#fec981"/>
<path d="M423.3 263.3 L427.0 257.0 L435.0 251.2 L440.0 250.0 L446.7 246.7 L448.7 250.7 L450.0 260.7 L456.7 257.3 L463.3 252.8 L468.3 255.0 L470.0 260.0 L463.3 264.5 L456.7 267.8 L448.3 272.3 L440.0 271.2 L433.3 270.0 L423.7 269.5Z" fill="#77c35c"/>
<path d="M418.3 272.0 L423.3 270.0 L433.3 270.3 L440.0 271.7 L448.3 272.7 L456.7 268.3 L463.3 264.8 L470.0 260.7 L485.0 261.2 L492.3 262.0 L492.3 307.0 L486.7 310.3 L481.7 302.0 L478.3 290.3 L471.7 287.0 L463.3 288.7 L455.0 285.3 L446.7 284.5 L440.0 280.3 L430.0 276.2Z" fill="#f07c4a" stroke="none"/>
<path d="M418.3 272.0 L423.3 270.0 L433.3 270.3 L440.0 271.7 L448.3 272.7 L456.7 268.3 L463.3 264.8 L470.0 260.7 L485.0 261.2 L492.3 262.0M492.3 307.0 L486.7 310.3 L481.7 302.0 L478.3 290.3 L471.7 287.0 L463.3 288.7 L455.0 285.3 L446.7 284.5 L440.0 280.3 L430.0 276.2 L418.3 272.0" fill="none"/>
<path d="M479.7 273.7 L485.0 272.0 L490.8 272.8 L492.3 280.3 L489.2 286.2 L483.3 284.5 L480.8 279.5Z" fill="#77c35c"/>
<path d="M445.0 285.3 L455.0 285.7 L463.3 289.0 L471.7 287.3 L478.3 290.7 L481.7 302.0 L486.7 310.7 L485.0 314.3 L455.0 314.3 L456.7 307.0 L455.0 300.3 L457.5 297.0 L453.3 293.7 L448.3 290.3Z" fill="#d7191c" stroke="none"/>
<path d="M445.0 285.3 L455.0 285.7 L463.3 289.0 L471.7 287.3 L478.3 290.7 L481.7 302.0 L486.7 310.7 L485.0 314.3M455.0 314.3 L456.7 307.0 L455.0 300.3 L457.5 297.0 L453.3 293.7 L448.3 290.3 L445.0 285.3" fill="none"/>
<path d="M455.0 297.8 L459.2 297.8 L462.5 305.3 L466.7 314.3 L460.0 314.3 L456.7 307.0Z" fill="#f07c4a" stroke="none"/>
<path d="M455.0 297.8 L459.2 297.8 L462.5 305.3 L466.7 314.3M460.0 314.3 L456.7 307.0 L455.0 297.8" fill="none"/>
<path d="M365.0 271.2 L376.7 268.3 L387.5 264.5 L393.3 267.3 L398.3 273.7 L399.2 280.3 L395.0 284.5 L388.3 285.3 L381.7 280.3 L373.3 279.0 L367.5 277.0Z" fill="#ffffc0"/>
<path d="M367.5 277.8 L373.3 279.5 L381.7 280.7 L388.3 285.7 L385.0 288.7 L378.3 285.3 L370.8 284.0Z" fill="#ffffc0"/>
<path d="M353.3 277.8 L364.2 272.0 L367.5 277.8 L370.8 284.5 L375.8 295.3 L371.7 298.3 L361.7 300.3 L355.0 301.2 L352.5 297.0 L350.0 292.0 L351.7 283.7Z" fill="#fec981"/>
<path d="M370.8 284.5 L378.7 285.7 L385.3 289.0 L387.5 290.3 L381.7 292.8 L380.8 298.7 L375.8 295.3Z" fill="#ffffc0"/>
<path d="M369.2 302.8 L372.0 298.7 L380.8 299.0 L385.8 302.0 L383.7 305.3 L380.8 309.0 L374.2 307.0Z" fill="#c4e687"/>
<path d="M339.7 271.2 L346.7 273.3 L353.0 277.8 L351.3 283.7 L349.7 292.0 L343.3 296.2 L339.7 297.0Z" fill="#d7191c" stroke="none"/>
<path d="M339.7 271.2 L346.7 273.3 L353.0 277.8 L351.3 283.7 L349.7 292.0 L343.3 296.2 L339.7 297.0" fill="none"/>
<path d="M415.0 302.3 L419.2 299.5 L428.3 301.2 L428.7 305.3 L423.3 308.3 L416.7 307.0Z" fill="#77c35c"/>
<path d="M420.0 312.0 L425.0 310.0 L428.3 312.0 L427.5 314.3 L420.8 314.3Z" fill="#ffffc0" stroke="none"/>
<path d="M420.0 312.0 L425.0 310.0 L428.3 312.0 L427.5 314.3M420.8 314.3 L420.0 312.0" fill="none"/>
<path d="M339.7 300.3 L345.0 302.8 L350.0 307.0 L351.7 314.3 L339.7 314.3Z" fill="#77c35c" stroke="none"/>
<path d="M339.7 300.3 L345.0 302.8 L350.0 307.0 L351.7 314.3" fill="none"/>
<path d="M505.3 206.7 L524.5 206.7 L522.0 211.2 L517.0 212.8 L508.7 211.2Z" fill="#d7191c" stroke="none"/>
<path d="M524.5 206.7 L522.0 211.2 L517.0 212.8 L508.7 211.2 L505.3 206.7" fill="none"/>
<path d="M491.7 206.7 L505.3 206.7 L508.7 211.5 L517.0 213.2 L518.7 221.2 L512.0 222.8 L502.0 222.0 L497.0 228.7 L491.7 227.0Z" fill="#fec981" stroke="none"/>
<path d="M505.3 206.7 L508.7 211.5 L517.0 213.2 L518.7 221.2 L512.0 222.8 L502.0 222.0 L497.0 228.7 L491.7 227.0" fill="none"/>
<path d="M518.7 221.2 L522.0 211.5 L524.5 206.7 L542.0 206.7 L544.5 212.0 L540.3 218.7 L533.7 221.2 L525.3 221.7Z" fill="#fec981" stroke="none"/>
<path d="M518.7 221.2 L522.0 211.5 L524.5 206.7M542.0 206.7 L544.5 212.0 L540.3 218.7 L533.7 221.2 L525.3 221.7 L518.7 221.2" fill="none"/>
<path d="M542.0 206.7 L572.0 206.7 L570.3 212.0 L567.0 218.7 L563.7 222.0 L557.0 221.2 L548.7 220.3 L542.0 219.0 L544.5 212.3Z" fill="#c4e687" stroke="none"/>
<path d="M572.0 206.7 L570.3 212.0 L567.0 218.7 L563.7 222.0 L557.0 221.2 L548.7 220.3 L542.0 219.0 L544.5 212.3 L542.0 206.7" fill="none"/>
<path d="M564.0 222.3 L567.3 218.7 L571.2 209.5 L575.3 208.7 L580.3 214.5 L584.5 218.7 L582.0 225.3 L582.8 232.0 L575.3 233.3 L568.7 232.0 L567.0 227.0Z" fill="#c4e687"/>
<path d="M576.2 206.7 L590.3 206.7 L587.0 213.7 L584.5 218.3 L580.3 214.0 L577.0 209.0Z" fill="#ffffc0" stroke="none"/>
<path d="M590.3 206.7 L587.0 213.7 L584.5 218.3 L580.3 214.0 L577.0 209.0 L576.2 206.7" fill="none"/>
<path d="M519.5 222.3 L525.3 222.0 L533.7 221.7 L540.3 219.0 L548.7 220.7 L549.5 225.3 L540.3 225.7 L532.8 227.8 L527.8 233.7 L522.8 230.3Z" fill="#c4e687"/>
<path d="M491.7 227.8 L497.0 229.0 L502.3 222.3 L512.0 223.2 L518.7 222.0 L522.8 230.7 L523.7 237.0 L517.0 239.5 L508.7 241.2 L502.0 238.7 L497.0 236.2 L491.7 235.3Z" fill="#ffffc0" stroke="none"/>
<path d="M491.7 227.8 L497.0 229.0 L502.3 222.3 L512.0 223.2 L518.7 222.0 L522.8 230.7 L523.7 237.0 L517.0 239.5 L508.7 241.2 L502.0 238.7 L497.0 236.2 L491.7 235.3" fill="none"/>
<path d="M547.0 238.7 L554.5 234.0 L558.7 233.7 L565.3 240.7 L578.7 245.0 L578.7 249.0 L582.8 253.2 L588.7 255.7 L593.7 260.3 L598.7 262.8 L598.7 266.2 L588.7 270.3 L580.3 272.8 L575.3 270.3 L570.3 263.7 L565.3 252.0 L558.7 249.5 L553.7 247.0Z" fill="#ffffc0"/>
<path d="M548.7 223.7 L552.8 220.7 L561.2 222.8 L558.7 226.2 L552.8 228.2 L549.5 227.0Z" fill="#d7191c"/>
<path d="M529.5 232.0 L533.3 228.2 L538.7 229.5 L539.5 233.7 L542.0 239.5 L537.0 241.2 L530.7 239.5Z" fill="#f07c4a"/>
<path d="M539.5 229.5 L540.3 226.2 L549.5 225.7 L553.3 228.7 L554.5 233.7 L547.8 237.8 L542.0 238.7 L539.8 233.7Z" fill="#ffffc0"/>
<path d="M553.7 228.3 L558.7 226.5 L565.3 225.7 L568.3 232.0 L558.7 233.3 L555.0 232.8Z" fill="#ffffc0"/>
<path d="M558.7 233.7 L568.7 232.3 L582.8 232.3 L586.2 230.3 L589.5 234.5 L585.3 237.8 L580.3 240.3 L578.7 244.5 L565.3 240.3Z" fill="#ffffc0"/>
<path d="M577.8 227.8 L582.8 220.3 L592.0 218.3 L602.0 217.8 L607.3 223.7 L603.7 227.8 L602.0 237.0 L597.0 238.7 L597.8 232.0 L598.7 226.2 L593.7 223.7 L589.5 225.3 L592.8 231.2 L589.5 232.0 L585.3 227.8 L580.3 230.3Z" fill="#d7191c"/>
<path d="M589.5 226.2 L593.7 224.2 L597.8 227.0 L597.0 234.5 L593.7 233.7 L592.0 230.3Z" fill="#ffffc0"/>
<path d="M578.7 244.5 L581.2 240.3 L592.0 235.3 L597.0 238.7 L602.0 237.3 L602.8 242.0 L612.0 242.8 L615.0 248.7 L614.5 254.5 L608.7 258.7 L600.3 261.7 L593.7 260.0 L588.7 255.3 L582.8 252.8 L578.7 248.7Z" fill="#d7191c"/>
<path d="M614.5 242.3 L619.5 237.8 L629.5 235.0 L631.2 242.0 L635.0 250.7 L632.0 257.0 L628.7 263.7 L620.3 258.7 L614.5 255.3 L615.3 248.7Z" fill="#fec981"/>
<path d="M608.7 262.8 L616.2 257.8 L620.3 259.0 L628.7 264.0 L625.3 269.5 L622.0 272.3 L615.3 267.3Z" fill="#77c35c"/>
<path d="M598.7 262.8 L608.7 259.5 L608.7 262.8 L615.3 267.8 L622.0 272.8 L613.7 277.0 L605.3 280.3 L598.7 285.3 L592.0 292.0 L588.7 293.7 L586.2 287.0 L590.3 282.0 L595.3 277.0 L598.7 270.3Z" fill="#fec981"/>
<path d="M588.7 294.5 L592.0 292.3 L598.7 285.7 L605.3 280.7 L613.7 277.3 L622.3 273.2 L633.7 283.7 L644.3 290.3 L644.3 314.3 L600.3 314.3 L602.0 310.3 L595.3 305.3 L590.3 302.0 L589.5 297.8Z" fill="#77c35c" stroke="none"/>
<path d="M588.7 294.5 L592.0 292.3 L598.7 285.7 L605.3 280.7 L613.7 277.3 L622.3 273.2 L633.7 283.7 L644.3 290.3M600.3 314.3 L602.0 310.3 L595.3 305.3 L590.3 302.0 L589.5 297.8 L588.7 294.5" fill="none"/>
<path d="M590.3 297.8 L598.7 294.5 L605.3 292.0 L611.7 297.8 L608.7 304.5 L607.0 308.7 L602.0 310.7 L595.3 305.7 L590.3 302.3Z" fill="#c4e687"/>
<path d="M554.5 248.7 L558.7 249.8 L565.3 252.3 L569.0 257.0 L570.3 263.7 L572.0 266.2 L567.0 265.3 L560.3 262.0 L557.0 255.3Z" fill="#fec981"/>
<path d="M545.3 248.7 L551.2 245.7 L554.5 248.7 L557.0 255.3 L555.3 258.7 L550.3 255.3Z" fill="#c4e687"/>
<path d="M539.5 242.8 L543.7 239.8 L547.8 241.2 L550.3 245.7 L545.3 248.3 L542.0 247.0Z" fill="#d7191c"/>
<path d="M531.2 251.2 L534.5 244.5 L537.0 241.5 L539.5 242.8 L542.0 247.3 L542.8 251.2 L539.5 257.0 L533.7 256.2Z" fill="#ffffc0"/>
<path d="M520.3 240.3 L523.7 237.3 L527.8 234.0 L530.7 239.8 L536.7 241.5 L534.0 245.0 L531.2 251.2 L525.3 246.2Z" fill="#c4e687"/>
<path d="M508.7 241.5 L517.0 239.8 L520.3 240.7 L525.3 246.5 L531.2 251.7 L530.7 256.2 L524.5 254.5 L518.7 248.7 L513.7 244.5Z" fill="#f07c4a"/>
<path d="M497.0 236.7 L502.0 239.0 L505.0 242.3 L500.3 242.8 L497.0 240.3Z" fill="#fec981"/>
<path d="M491.7 236.2 L496.7 237.0 L497.0 240.7 L493.7 250.3 L491.7 251.2Z" fill="#c4e687" stroke="none"/>
<path d="M491.7 236.2 L496.7 237.0 L497.0 240.7 L493.7 250.3 L491.7 251.2" fill="none"/>
<path d="M491.7 251.7 L494.0 250.0 L497.0 241.2 L500.3 243.2 L505.3 242.5 L508.7 241.7 L513.7 244.8 L518.7 249.0 L523.7 254.5 L522.8 260.3 L520.3 265.3 L508.7 263.7 L498.7 262.8 L491.7 262.0Z" fill="#ffffc0" stroke="none"/>
<path d="M491.7 251.7 L494.0 250.0 L497.0 241.2 L500.3 243.2 L505.3 242.5 L508.7 241.7 L513.7 244.8 L518.7 249.0 L523.7 254.5 L522.8 260.3 L520.3 265.3 L508.7 263.7 L498.7 262.8 L491.7 262.0" fill="none"/>
<path d="M551.2 263.7 L555.3 259.0 L560.3 262.3 L567.0 265.7 L572.0 266.7 L576.2 271.2 L575.3 274.5 L567.0 275.0 L560.3 276.2 L555.3 272.0 L552.0 268.7Z" fill="#1a9641"/>
<path d="M550.3 272.8 L555.3 272.3 L560.3 276.5 L575.3 274.8 L578.7 278.7 L580.3 281.2 L570.3 287.0 L565.3 285.3 L558.7 282.0 L552.0 280.3Z" fill="#c4e687"/>
<path d="M577.0 273.7 L580.3 273.2 L588.7 270.7 L598.7 266.5 L598.7 270.3 L595.3 277.0 L590.3 282.3 L586.2 285.3 L581.2 281.2 L578.7 277.0Z" fill="#c4e687"/>
<path d="M520.7 265.3 L523.3 260.3 L524.5 255.0 L530.7 256.5 L539.5 257.3 L543.7 252.0 L548.7 254.5 L552.8 260.3 L551.2 264.5 L551.7 269.0 L549.5 277.0 L542.0 275.7 L533.7 273.7 L527.0 269.5Z" fill="#d7191c"/>
<path d="M502.8 271.2 L505.3 265.3 L508.7 264.0 L520.3 265.7 L527.0 269.8 L533.7 274.0 L529.5 280.3 L529.5 286.2 L522.0 285.3 L515.3 287.8 L508.7 282.0 L504.5 277.0Z" fill="#d7191c"/>
<path d="M491.7 262.8 L498.7 263.2 L505.3 265.3 L502.8 271.2 L504.5 277.0 L508.7 282.3 L515.3 288.2 L512.0 295.3 L507.8 303.7 L508.7 310.3 L505.3 314.3 L491.7 314.3Z" fill="#f07c4a" stroke="none"/>
<path d="M491.7 262.8 L498.7 263.2 L505.3 265.3 L502.8 271.2 L504.5 277.0 L508.7 282.3 L515.3 288.2 L512.0 295.3 L507.8 303.7 L508.7 310.3 L505.3 314.3" fill="none"/>
<path d="M530.0 280.3 L534.0 274.5 L542.0 276.0 L549.5 277.3 L553.7 285.3 L552.8 289.5 L548.7 292.0 L542.0 295.3 L535.3 297.8 L532.0 292.0 L529.5 287.0Z" fill="#fec981"/>
<path d="M516.2 288.7 L522.0 285.7 L529.5 286.7 L532.0 292.3 L535.0 298.3 L537.8 299.5 L532.0 307.0 L527.8 311.2 L515.3 312.3 L508.7 310.7 L507.8 304.0 L512.0 295.7Z" fill="#ffffc0"/>
<path d="M513.7 312.8 L527.8 311.5 L532.3 307.0 L538.2 299.5 L542.0 295.7 L548.7 292.3 L552.8 289.8 L557.8 290.3 L556.2 297.0 L559.5 302.0 L556.2 308.7 L552.0 314.3 L513.7 314.3Z" fill="#d7191c" stroke="none"/>
<path d="M513.7 312.8 L527.8 311.5 L532.3 307.0 L538.2 299.5 L542.0 295.7 L548.7 292.3 L552.8 289.8 L557.8 290.3 L556.2 297.0 L559.5 302.0 L556.2 308.7 L552.0 314.3M513.7 314.3 L513.7 312.8" fill="none"/>
<path d="M552.8 281.2 L558.7 282.3 L565.3 285.7 L569.5 297.0 L573.7 300.3 L579.5 302.0 L582.0 307.0 L577.8 311.2 L575.3 314.3 L552.0 314.3 L556.5 308.7 L559.8 302.0 L556.5 297.0 L558.2 290.3 L553.3 289.5 L554.0 285.3Z" fill="#77c35c" stroke="none"/>
<path d="M552.8 281.2 L558.7 282.3 L565.3 285.7 L569.5 297.0 L573.7 300.3 L579.5 302.0 L582.0 307.0 L577.8 311.2 L575.3 314.3M552.0 314.3 L556.5 308.7 L559.8 302.0 L556.5 297.0 L558.2 290.3 L553.3 289.5 L554.0 285.3 L552.8 281.2" fill="none"/>
<path d="M565.7 285.7 L570.3 287.3 L575.3 293.7 L579.5 301.7 L573.7 300.0 L569.5 296.7Z" fill="#c4e687"/>
<path d="M570.0 287.8 L581.2 281.5 L586.2 285.7 L588.7 293.7 L589.0 297.8 L580.3 301.7 L575.3 293.7Z" fill="#d7191c"/>
<path d="M578.3 311.2 L582.3 307.0 L580.0 302.0 L589.0 298.3 L590.3 302.3 L595.3 305.7 L602.0 310.7 L600.3 314.3 L575.7 314.3Z" fill="#c4e687" stroke="none"/>
<path d="M578.3 311.2 L582.3 307.0 L580.0 302.0 L589.0 298.3 L590.3 302.3 L595.3 305.7 L602.0 310.7 L600.3 314.3M575.7 314.3 L578.3 311.2" fill="none"/>
<path d="M643.7 292.0 L650.7 293.7 L657.3 302.0 L665.7 310.3 L667.3 314.3 L643.7 314.3Z" fill="#77c35c" stroke="none"/>
<path d="M643.7 292.0 L650.7 293.7 L657.3 302.0 L665.7 310.3 L667.3 314.3" fill="none"/>
<path d="M331.3 206.7 L340.3 206.7 L340.3 212.8 L333.0 213.7Z" fill="#d7191c" stroke="none"/>
<path d="M340.3 212.8 L333.0 213.7 L331.3 206.7" fill="none"/>
<path d="M334.7 213.7 L340.3 212.0 L340.3 218.7Z" fill="#77c35c" stroke="none"/>
<path d="M334.7 213.7 L340.3 212.0M340.3 218.7 L334.7 213.7" fill="none"/>
<path d="M291.3 378.7 L298.0 377.7 L304.7 369.8 L309.7 374.3 L316.3 376.0 L323.3 371.0 L326.7 362.3 L325.8 356.8 L320.5 354.3 L325.8 351.0 L340.3 352.0 L340.3 361.2 L330.5 360.3 L330.7 371.5 L334.7 375.2 L340.3 377.0 L340.3 421.3 L266.3 421.3 L271.3 414.0 L275.5 409.8 L273.0 404.8 L281.3 394.0 L288.0 384.0Z" fill="#ffffc0" stroke="none"/>
<path d="M291.3 378.7 L298.0 377.7 L304.7 369.8 L309.7 374.3 L316.3 376.0 L323.3 371.0 L326.7 362.3 L325.8 356.8 L320.5 354.3 L325.8 351.0 L340.3 352.0M340.3 361.2 L330.5 360.3 L330.7 371.5 L334.7 375.2 L340.3 377.0M266.3 421.3 L271.3 414.0 L275.5 409.8 L273.0 404.8 L281.3 394.0 L288.0 384.0 L291.3 378.7" fill="none"/>
<path d="M219.7 313.7 L281.3 313.7 L278.0 320.7 L273.0 325.7 L268.0 326.5 L266.3 322.3 L269.7 319.0 L268.0 315.7 L261.3 315.7 L253.8 318.2 L249.7 323.2 L252.2 328.2 L244.7 335.7 L238.0 332.3 L229.7 325.7 L223.8 320.7Z" fill="#fec981" stroke="none"/>
<path d="M281.3 313.7 L278.0 320.7 L273.0 325.7 L268.0 326.5 L266.3 322.3 L269.7 319.0 L268.0 315.7 L261.3 315.7 L253.8 318.2 L249.7 323.2 L252.2 328.2 L244.7 335.7 L238.0 332.3 L229.7 325.7 L223.8 320.7 L219.7 313.7" fill="none"/>
<path d="M244.7 335.7 L252.2 328.2 L250.0 323.2 L253.8 318.2 L261.3 315.7 L268.0 315.7 L269.7 319.0 L266.3 322.3 L267.7 327.0 L263.8 330.7 L261.3 340.7 L253.8 339.0Z" fill="#f07c4a"/>
<path d="M278.8 313.7 L304.7 313.7 L306.3 327.3 L294.7 330.7 L289.7 332.0 L281.3 328.2 L273.8 325.7 L278.0 320.7Z" fill="#f07c4a" stroke="none"/>
<path d="M304.7 313.7 L306.3 327.3 L294.7 330.7 L289.7 332.0 L281.3 328.2 L273.8 325.7 L278.0 320.7 L278.8 313.7" fill="none"/>
<path d="M236.3 339.0 L238.8 335.7 L244.7 336.0 L253.8 339.3 L258.0 346.5 L253.8 349.8 L248.0 351.5 L241.3 348.2 L237.2 344.0Z" fill="#77c35c"/>
<path d="M253.8 339.3 L261.3 341.0 L263.8 330.7 L268.0 327.0 L273.8 326.0 L281.3 328.5 L289.7 332.3 L306.3 327.7 L305.5 313.7 L319.7 313.7 L321.3 320.7 L329.7 325.7 L328.0 334.0 L321.3 340.7 L320.5 345.7 L325.5 350.7 L319.7 354.0 L308.0 355.3 L304.7 364.0 L301.3 371.5 L298.0 377.3 L291.3 378.2 L288.0 372.3 L281.3 366.5 L274.7 364.8 L263.0 367.3 L256.3 365.7 L254.7 362.3 L258.0 357.3 L254.7 353.2 L258.0 346.8Z" fill="#77c35c" stroke="none"/>
<path d="M253.8 339.3 L261.3 341.0 L263.8 330.7 L268.0 327.0 L273.8 326.0 L281.3 328.5 L289.7 332.3 L306.3 327.7 L305.5 313.7M319.7 313.7 L321.3 320.7 L329.7 325.7 L328.0 334.0 L321.3 340.7 L320.5 345.7 L325.5 350.7 L319.7 354.0 L308.0 355.3 L304.7 364.0 L301.3 371.5 L298.0 377.3 L291.3 378.2 L288.0 372.3 L281.3 366.5 L274.7 364.8 L263.0 367.3 L256.3 365.7 L254.7 362.3 L258.0 357.3 L254.7 353.2 L258.0 346.8 L253.8 339.3" fill="none"/>
<path d="M319.7 313.7 L340.3 313.7 L340.3 351.5 L325.5 350.3 L320.8 345.7 L321.7 340.7 L328.3 334.0 L330.0 325.7 L321.7 320.7Z" fill="#c4e687" stroke="none"/>
<path d="M340.3 351.5 L325.5 350.3 L320.8 345.7 L321.7 340.7 L328.3 334.0 L330.0 325.7 L321.7 320.7 L319.7 313.7" fill="none"/>
<path d="M333.0 313.7 L340.3 313.7 L340.3 319.8 L335.5 319.8 L333.0 317.3Z" fill="#77c35c" stroke="none"/>
<path d="M340.3 319.8 L335.5 319.8 L333.0 317.3 L333.0 313.7" fill="none"/>
<path d="M304.7 364.0 L308.3 355.7 L319.7 354.3 L325.5 356.5 L326.3 362.3 L323.0 370.7 L316.3 375.7 L309.7 374.0 L304.7 369.0Z" fill="#fec981"/>
<path d="M330.5 360.7 L340.3 361.5 L340.3 376.5 L334.7 374.8 L331.0 371.5Z" fill="#f07c4a" stroke="none"/>
<path d="M330.5 360.7 L340.3 361.5M340.3 376.5 L334.7 374.8 L331.0 371.5 L330.5 360.7" fill="none"/>
<path d="M319.7 399.8 L328.0 394.8 L335.5 399.8 L331.3 407.3 L324.7 406.5Z" fill="#ffffc0"/>
<path d="M316.3 414.0 L323.0 404.8 L331.3 407.7 L340.3 412.3 L340.3 421.3 L321.3 421.3Z" fill="#c4e687" stroke="none"/>
<path d="M316.3 414.0 L323.0 404.8 L331.3 407.7 L340.3 412.3M321.3 421.3 L316.3 414.0" fill="none"/>
<path d="M332.2 406.5 L337.2 404.0 L340.3 404.8 L340.3 411.5 L334.7 410.7Z" fill="#fec981" stroke="none"/>
<path d="M332.2 406.5 L337.2 404.0 L340.3 404.8M340.3 411.5 L334.7 410.7 L332.2 406.5" fill="none"/>
<path d="M339.7 313.7 L351.7 313.7 L348.3 316.5 L339.7 319.0Z" fill="#77c35c" stroke="none"/>
<path d="M351.7 313.7 L348.3 316.5 L339.7 319.0" fill="none"/>
<path d="M339.7 354.0 L361.7 355.7 L362.5 362.7 L339.7 362.0Z" fill="#ffffc0" stroke="none"/>
<path d="M339.7 354.0 L361.7 355.7 L362.5 362.7 L339.7 362.0" fill="none"/>
<path d="M339.7 353.7 L344.2 349.8 L361.7 352.0 L362.0 355.7Z" fill="#c4e687"/>
<path d="M339.7 362.3 L362.5 363.2 L364.2 365.7 L360.0 371.5 L350.0 377.0 L339.7 375.7Z" fill="#f07c4a" stroke="none"/>
<path d="M339.7 362.3 L362.5 363.2 L364.2 365.7 L360.0 371.5 L350.0 377.0 L339.7 375.7" fill="none"/>
<path d="M339.7 376.5 L350.0 377.3 L348.3 384.0 L347.5 392.3 L339.7 394.0Z" fill="#ffffc0" stroke="none"/>
<path d="M339.7 376.5 L350.0 377.3 L348.3 384.0 L347.5 392.3 L339.7 394.0" fill="none"/>
<path d="M339.7 394.8 L347.5 393.2 L350.8 397.3 L350.0 404.0 L339.7 404.0Z" fill="#ffffc0" stroke="none"/>
<path d="M339.7 394.8 L347.5 393.2 L350.8 397.3 L350.0 404.0 L339.7 404.0" fill="none"/>
<path d="M339.7 404.8 L348.3 404.8 L349.2 410.7 L339.7 411.5Z" fill="#fec981" stroke="none"/>
<path d="M339.7 404.8 L348.3 404.8 L349.2 410.7 L339.7 411.5" fill="none"/>
<path d="M349.2 405.7 L355.0 405.3 L356.7 412.3 L350.0 413.7Z" fill="#ffffc0"/>
<path d="M339.7 412.3 L350.0 414.0 L356.7 412.7 L365.0 411.5 L375.8 411.0 L377.5 421.3 L339.7 421.3Z" fill="#ffffc0" stroke="none"/>
<path d="M339.7 412.3 L350.0 414.0 L356.7 412.7 L365.0 411.5 L375.8 411.0 L377.5 421.3" fill="none"/>
<path d="M380.8 359.0 L385.0 354.3 L393.3 354.8 L397.5 359.0 L395.8 363.2 L388.3 366.0 L382.5 364.0Z" fill="#77c35c"/>
<path d="M366.3 371.5 L374.2 366.0 L383.0 370.7 L381.7 378.2 L373.3 380.3 L367.5 377.3Z" fill="#77c35c"/>
<path d="M400.8 357.3 L406.7 353.2 L412.0 352.7 L413.3 363.2 L406.7 364.8 L401.7 362.3Z" fill="#c4e687"/>
<path d="M403.0 332.3 L410.0 329.8 L413.3 325.7 L418.3 327.3 L420.8 332.3 L416.7 336.5 L411.7 334.8Z" fill="#ffffc0"/>
<path d="M440.0 392.3 L445.8 381.0 L456.7 380.2 L463.3 381.0 L456.7 389.3 L455.0 394.3 L460.3 394.3 L464.2 394.3 L466.7 397.7 L473.3 398.5 L483.7 396.0 L487.0 390.7 L482.0 387.3 L477.0 384.0 L485.0 375.3 L487.0 370.3 L492.3 369.3 L492.3 421.3 L433.3 421.3 L438.3 412.3 L435.8 404.0 L437.5 399.0Z" fill="#ffffc0" stroke="none"/>
<path d="M440.0 392.3 L445.8 381.0 L456.7 380.2 L463.3 381.0 L456.7 389.3 L455.0 394.3 L460.3 394.3 L464.2 394.3 L466.7 397.7 L473.3 398.5 L483.7 396.0 L487.0 390.7 L482.0 387.3 L477.0 384.0 L485.0 375.3 L487.0 370.3 L492.3 369.3M433.3 421.3 L438.3 412.3 L435.8 404.0 L437.5 399.0 L440.0 392.3" fill="none"/>
<path d="M431.7 361.5 L439.7 359.3 L437.0 349.8 L438.7 348.5 L446.7 350.2 L455.0 349.3 L459.5 345.7 L458.7 334.8 L461.7 322.3 L456.7 317.3 L455.0 313.7 L492.3 313.7 L492.3 355.7 L481.7 356.5 L473.3 354.0 L471.7 362.3 L460.0 370.7 L450.0 376.5 L445.8 380.7 L440.0 372.3Z" fill="#d7191c" stroke="none"/>
<path d="M431.7 361.5 L439.7 359.3 L437.0 349.8 L438.7 348.5 L446.7 350.2 L455.0 349.3 L459.5 345.7 L458.7 334.8 L461.7 322.3 L456.7 317.3 L455.0 313.7M492.3 355.7 L481.7 356.5 L473.3 354.0 L471.7 362.3 L460.0 370.7 L450.0 376.5 L445.8 380.7 L440.0 372.3 L431.7 361.5" fill="none"/>
<path d="M421.7 331.5 L425.8 319.0 L427.5 314.8 L434.2 313.7 L435.0 319.0 L430.0 324.8 L425.0 330.7Z" fill="#d7191c"/>
<path d="M425.0 331.0 L430.3 324.8 L435.3 319.8 L450.0 318.7 L451.3 324.8 L446.7 327.3 L440.0 330.7 L430.0 332.3Z" fill="#f07c4a"/>
<path d="M451.3 319.0 L456.7 317.7 L461.7 322.3 L459.2 324.8 L451.7 325.3Z" fill="#77c35c"/>
<path d="M423.7 334.0 L430.0 332.3 L439.7 331.5 L441.7 336.5 L437.5 340.7 L430.8 342.0 L425.0 340.7Z" fill="#77c35c"/>
<path d="M440.3 330.7 L446.7 327.7 L451.3 325.7 L453.3 330.7 L451.3 335.3 L446.7 336.5 L442.0 336.5Z" fill="#f07c4a"/>
<path d="M452.0 325.7 L459.2 325.3 L457.5 330.7 L453.7 331.0Z" fill="#f07c4a"/>
<path d="M448.0 337.3 L451.7 335.3 L457.5 334.8 L458.7 340.7 L453.3 342.7 L449.2 340.7Z" fill="#77c35c"/>
<path d="M433.3 343.2 L438.0 341.0 L442.0 336.8 L447.5 337.3 L449.2 341.0 L453.7 343.2 L458.7 341.5 L459.2 345.7 L455.0 349.0 L446.7 349.8 L438.3 348.2Z" fill="#f07c4a"/>
<path d="M413.0 348.2 L415.8 341.5 L420.8 335.3 L423.3 334.8 L425.0 341.0 L421.7 344.8 L415.8 349.0Z" fill="#fec981"/>
<path d="M413.3 351.5 L416.3 349.0 L422.0 345.2 L425.3 341.5 L430.8 342.3 L433.3 343.7 L436.7 349.8 L439.7 359.0 L433.3 360.7 L421.7 361.5 L416.7 358.2Z" fill="#ffffc0"/>
<path d="M413.0 354.0 L416.7 358.5 L421.7 361.8 L431.3 361.5 L430.8 367.3 L423.3 369.0 L415.8 366.5 L413.3 362.3Z" fill="#f07c4a"/>
<path d="M471.7 362.3 L473.3 354.3 L481.7 356.8 L492.3 356.0 L492.3 369.0 L486.7 369.8 L483.3 367.3 L476.7 372.3 L471.7 374.0 L469.2 367.3Z" fill="#fec981" stroke="none"/>
<path d="M471.7 362.3 L473.3 354.3 L481.7 356.8 L492.3 356.0M492.3 369.0 L486.7 369.8 L483.3 367.3 L476.7 372.3 L471.7 374.0 L469.2 367.3 L471.7 362.3" fill="none"/>
<path d="M450.0 377.0 L460.0 371.0 L469.2 365.7 L471.7 374.3 L470.0 378.2 L463.3 380.7 L456.7 379.8Z" fill="#ffffc0"/>
<path d="M455.0 394.0 L456.7 389.0 L463.3 384.0 L470.0 379.8 L477.0 372.7 L483.3 367.7 L486.7 370.3 L485.0 374.8 L476.7 379.8 L471.7 384.0 L466.7 389.0 L460.0 394.0Z" fill="#77c35c"/>
<path d="M464.2 394.0 L467.0 389.3 L472.0 384.3 L476.7 384.0 L481.7 387.3 L486.7 390.7 L483.3 395.7 L473.3 398.2 L466.7 397.3Z" fill="#fec981"/>
<path d="M450.0 402.3 L456.7 399.0 L463.3 399.8 L468.3 397.3 L469.2 400.7 L464.2 404.8 L463.3 410.7 L459.2 409.8 L455.0 407.3 L450.8 405.7Z" fill="#77c35c"/>
<path d="M473.3 400.7 L478.3 399.0 L483.7 396.5 L490.0 402.3 L490.8 407.3 L485.0 409.8 L479.2 407.3 L476.7 403.2Z" fill="#77c35c"/>
<path d="M448.3 416.5 L456.7 416.0 L459.2 419.8 L456.7 421.3 L449.2 421.3Z" fill="#77c35c" stroke="none"/>
<path d="M448.3 416.5 L456.7 416.0 L459.2 419.8 L456.7 421.3M449.2 421.3 L448.3 416.5" fill="none"/>
<path d="M463.7 418.2 L468.3 417.3 L471.7 421.3 L464.2 421.3Z" fill="#77c35c" stroke="none"/>
<path d="M463.7 418.2 L468.3 417.3 L471.7 421.3M464.2 421.3 L463.7 418.2" fill="none"/>
<path d="M403.0 374.0 L406.7 372.0 L414.2 371.5 L415.8 374.8 L413.3 379.0 L405.8 379.3Z" fill="#c4e687"/>
<path d="M403.7 380.7 L411.7 380.2 L412.5 384.8 L405.8 385.7Z" fill="#ffffc0"/>
<path d="M413.3 379.8 L416.7 375.7 L420.0 378.2 L425.0 381.5 L428.3 385.7 L424.2 389.0 L417.5 389.8 L412.0 386.5Z" fill="#ffffc0"/>
<path d="M429.2 369.8 L433.3 369.0 L439.7 372.3 L440.0 374.8 L433.3 375.3Z" fill="#ffffc0"/>
<path d="M418.7 394.0 L423.3 390.3 L429.2 391.0 L430.8 395.7 L425.8 399.3 L420.8 398.2Z" fill="#77c35c"/>
<path d="M432.0 393.2 L436.7 389.8 L442.0 389.3 L441.3 395.7 L438.3 399.3 L433.3 398.2Z" fill="#fec981"/>
<path d="M420.3 401.5 L426.7 399.3 L433.3 398.7 L436.7 404.0 L433.3 410.7 L426.7 412.3 L421.7 408.2Z" fill="#ffffc0"/>
<path d="M411.3 410.7 L418.3 407.7 L426.7 412.7 L428.3 416.5 L421.7 418.2 L415.0 415.7Z" fill="#c4e687"/>
<path d="M430.0 414.0 L433.7 411.0 L437.5 407.3 L440.0 412.3 L435.8 421.3 L430.8 421.3Z" fill="#ffffc0" stroke="none"/>
<path d="M430.0 414.0 L433.7 411.0 L437.5 407.3 L440.0 412.3 L435.8 421.3M430.8 421.3 L430.0 414.0" fill="none"/>
<path d="M372.5 400.7 L375.8 396.5 L381.7 392.3 L387.5 393.2 L392.5 389.0 L394.2 394.0 L390.8 399.8 L385.0 401.5 L380.0 404.8 L374.2 404.0Z" fill="#77c35c"/>
<path d="M361.3 400.7 L366.7 399.3 L372.5 401.0 L374.2 404.8 L368.3 407.7 L363.3 405.7Z" fill="#ffffc0"/>
<path d="M349.2 384.0 L358.3 380.7 L362.5 380.3 L365.0 382.3 L371.7 384.0 L373.3 392.3 L366.7 392.3 L357.5 387.3 L356.7 392.3 L350.0 392.3Z" fill="#c4e687"/>
<path d="M397.5 400.7 L400.8 399.3 L402.5 402.3 L399.2 403.7Z" fill="#77c35c"/>
<path d="M404.2 399.8 L408.3 398.7 L410.8 401.5 L408.3 405.7 L405.0 404.0Z" fill="#77c35c"/>
<path d="M397.5 408.2 L401.7 406.5 L403.3 410.7 L400.0 414.8 L397.0 413.2Z" fill="#77c35c"/>
<path d="M376.7 414.0 L381.7 410.7 L390.0 410.3 L395.0 415.7 L397.5 421.3 L377.5 421.3Z" fill="#c4e687" stroke="none"/>
<path d="M376.7 414.0 L381.7 410.7 L390.0 410.3 L395.0 415.7 L397.5 421.3M377.5 421.3 L376.7 414.0" fill="none"/>
<path d="M491.7 313.7 L550.3 313.7 L547.8 320.7 L549.5 329.0 L555.3 337.3 L552.0 343.2 L545.3 347.3 L540.3 351.5 L536.2 353.2 L532.0 347.3 L522.8 334.0 L518.7 332.7 L514.5 334.0 L510.3 327.3 L507.8 330.7 L502.8 336.5 L502.0 339.8 L507.0 347.3 L507.8 349.8 L505.3 357.3 L497.0 358.2 L491.7 357.0Z" fill="#d7191c" stroke="none"/>
<path d="M550.3 313.7 L547.8 320.7 L549.5 329.0 L555.3 337.3 L552.0 343.2 L545.3 347.3 L540.3 351.5 L536.2 353.2 L532.0 347.3 L522.8 334.0 L518.7 332.7 L514.5 334.0 L510.3 327.3 L507.8 330.7 L502.8 336.5 L502.0 339.8 L507.0 347.3 L507.8 349.8 L505.3 357.3 L497.0 358.2 L491.7 357.0" fill="none"/>
<path d="M502.3 337.3 L507.8 330.7 L510.7 327.7 L514.5 334.3 L516.2 344.0 L507.3 348.7 L502.8 340.7Z" fill="#c4e687"/>
<path d="M515.0 334.8 L518.7 332.7 L522.8 334.3 L532.0 347.3 L536.2 353.7 L529.5 358.2 L526.2 360.3 L522.8 351.5 L522.3 344.8 L516.7 344.0Z" fill="#77c35c"/>
<path d="M506.7 349.8 L507.8 348.2 L516.7 344.3 L522.3 345.2 L523.2 352.0 L526.7 360.7 L523.7 364.0 L517.0 361.5 L508.7 359.0 L506.2 356.5Z" fill="#77c35c"/>
<path d="M491.7 357.7 L505.3 357.7 L506.7 362.3 L502.0 365.7 L491.7 367.7Z" fill="#fec981" stroke="none"/>
<path d="M491.7 357.7 L505.3 357.7 L506.7 362.3 L502.0 365.7 L491.7 367.7" fill="none"/>
<path d="M493.7 368.2 L502.3 365.7 L507.0 362.3 L508.7 359.3 L517.0 361.8 L523.7 364.3 L522.8 368.2 L517.0 373.2 L510.3 375.3 L502.0 374.8 L495.3 372.3Z" fill="#f07c4a"/>
<path d="M524.5 364.8 L529.5 358.5 L536.7 353.7 L545.7 347.7 L551.2 344.0 L550.3 349.8 L547.0 352.3 L551.2 357.3 L550.3 362.3 L547.0 366.5 L538.7 368.2 L532.0 371.5 L527.0 369.0Z" fill="#f07c4a"/>
<path d="M535.0 371.5 L539.0 368.5 L547.3 366.8 L551.2 361.5 L556.2 369.0 L562.8 371.5 L562.0 376.5 L557.0 376.5 L552.0 380.7 L548.7 384.8 L543.7 380.7 L539.5 376.5Z" fill="#77c35c"/>
<path d="M547.8 320.7 L550.3 313.7 L573.7 313.7 L578.7 323.2 L580.3 328.2 L589.5 332.3 L594.5 335.7 L593.7 343.2 L588.7 351.5 L582.8 355.7 L575.3 354.0 L570.3 351.5 L563.7 348.2 L560.3 349.8 L557.0 346.5 L552.3 346.5 L552.3 343.2 L555.7 337.3 L549.8 329.0Z" fill="#ffffc0" stroke="none"/>
<path d="M547.8 320.7 L550.3 313.7M573.7 313.7 L578.7 323.2 L580.3 328.2 L589.5 332.3 L594.5 335.7 L593.7 343.2 L588.7 351.5 L582.8 355.7 L575.3 354.0 L570.3 351.5 L563.7 348.2 L560.3 349.8 L557.0 346.5 L552.3 346.5 L552.3 343.2 L555.7 337.3 L549.8 329.0 L547.8 320.7" fill="none"/>
<path d="M545.7 352.7 L550.7 349.8 L552.3 346.8 L557.0 346.8 L560.3 350.2 L564.0 348.5 L570.7 351.8 L575.7 354.3 L583.2 356.0 L587.0 355.7 L585.3 364.0 L584.5 372.3 L582.8 380.7 L583.3 384.8 L575.3 386.5 L569.5 387.3 L569.0 380.7 L565.3 377.3 L562.8 376.5 L563.3 371.5 L556.7 369.0 L551.5 361.5 L551.5 357.0Z" fill="#ffffc0"/>
<path d="M574.0 313.7 L598.7 313.7 L597.8 322.3 L596.2 326.5 L593.7 332.3 L589.8 332.0 L580.7 328.2 L579.0 323.2Z" fill="#c4e687" stroke="none"/>
<path d="M598.7 313.7 L597.8 322.3 L596.2 326.5 L593.7 332.3 L589.8 332.0 L580.7 328.2 L579.0 323.2 L574.0 313.7" fill="none"/>
<path d="M598.7 313.7 L644.3 313.7 L639.5 320.7 L630.3 326.5 L618.7 328.2 L608.7 325.7 L601.2 322.3 L598.7 318.2Z" fill="#77c35c" stroke="none"/>
<path d="M644.3 313.7 L639.5 320.7 L630.3 326.5 L618.7 328.2 L608.7 325.7 L601.2 322.3 L598.7 318.2 L598.7 313.7" fill="none"/>
<path d="M631.2 327.3 L639.5 321.0 L644.3 317.3 L644.3 342.3 L638.7 343.2 L635.3 335.7Z" fill="#77c35c" stroke="none"/>
<path d="M631.2 327.3 L639.5 321.0 L644.3 317.3M644.3 342.3 L638.7 343.2 L635.3 335.7 L631.2 327.3" fill="none"/>
<path d="M607.0 327.3 L618.7 328.7 L630.3 327.0 L635.0 335.7 L635.7 343.2 L631.2 347.3 L625.3 344.0 L618.7 339.0 L612.0 332.3Z" fill="#ffffc0"/>
<path d="M632.0 348.2 L638.7 343.7 L644.3 342.7 L644.3 357.3 L638.7 354.8Z" fill="#ffffc0" stroke="none"/>
<path d="M632.0 348.2 L638.7 343.7 L644.3 342.7M644.3 357.3 L638.7 354.8 L632.0 348.2" fill="none"/>
<path d="M594.0 335.7 L596.2 327.0 L597.8 324.0 L599.5 335.7 L601.7 344.8 L596.2 345.7 L595.0 340.7Z" fill="#fec981"/>
<path d="M598.2 324.3 L607.0 328.2 L608.3 332.3 L605.0 339.0 L604.0 344.0 L602.0 344.8 L599.8 335.7Z" fill="#c4e687"/>
<path d="M605.3 339.0 L608.7 332.7 L612.3 332.7 L620.0 341.5 L617.8 344.8 L612.0 346.0 L607.0 342.3Z" fill="#fec981"/>
<path d="M604.0 344.3 L607.3 342.7 L612.0 346.3 L609.5 349.0 L605.0 348.2Z" fill="#c4e687"/>
<path d="M596.2 354.0 L598.7 352.3 L600.3 347.0 L604.0 347.3 L605.3 352.3 L612.3 357.7 L611.2 360.7 L605.3 361.5 L601.2 359.8 L600.3 362.3 L597.0 359.0Z" fill="#fec981"/>
<path d="M588.3 364.0 L589.5 355.7 L594.0 343.7 L596.2 346.0 L600.7 346.8 L598.7 352.7 L596.2 354.3 L597.3 359.3 L592.0 362.3Z" fill="#c4e687"/>
<path d="M590.7 367.3 L592.0 362.7 L597.3 359.7 L600.3 362.7 L605.3 361.8 L604.0 367.3 L603.7 370.7 L597.8 373.7 L593.7 369.8Z" fill="#fec981"/>
<path d="M604.0 348.2 L609.5 349.3 L612.3 346.5 L618.2 345.2 L620.3 341.8 L625.3 344.3 L631.2 347.7 L638.7 355.2 L644.3 357.7 L644.3 367.3 L638.7 372.3 L637.0 377.3 L627.0 380.7 L620.3 384.0 L615.3 382.3 L607.0 380.7 L605.3 371.5 L604.0 367.7 L605.7 361.8 L611.5 361.0 L612.7 357.7 L605.7 352.3Z" fill="#c4e687" stroke="none"/>
<path d="M604.0 348.2 L609.5 349.3 L612.3 346.5 L618.2 345.2 L620.3 341.8 L625.3 344.3 L631.2 347.7 L638.7 355.2 L644.3 357.7M644.3 367.3 L638.7 372.3 L637.0 377.3 L627.0 380.7 L620.3 384.0 L615.3 382.3 L607.0 380.7 L605.3 371.5 L604.0 367.7 L605.7 361.8 L611.5 361.0 L612.7 357.7 L605.7 352.3 L604.0 348.2" fill="none"/>
<path d="M583.7 380.7 L585.3 369.0 L590.7 367.7 L594.0 370.2 L598.2 374.0 L604.0 371.0 L605.7 371.8 L607.3 381.0 L615.7 382.7 L620.7 384.3 L625.3 387.3 L622.0 392.3 L615.3 390.7 L607.0 388.2 L592.0 384.8 L584.0 384.8Z" fill="#c4e687"/>
<path d="M622.0 384.3 L627.3 381.0 L637.3 377.7 L639.0 372.7 L644.3 367.7 L644.3 380.7 L637.0 380.7 L630.3 383.2 L625.3 387.3Z" fill="#c4e687" stroke="none"/>
<path d="M622.0 384.3 L627.3 381.0 L637.3 377.7 L639.0 372.7 L644.3 367.7M644.3 380.7 L637.0 380.7 L630.3 383.2 L625.3 387.3 L622.0 384.3" fill="none"/>
<path d="M625.3 387.7 L630.7 383.5 L637.3 381.0 L644.3 381.0 L644.3 401.5 L637.0 400.7 L630.3 397.3 L623.7 394.8 L622.3 392.3Z" fill="#77c35c" stroke="none"/>
<path d="M625.3 387.7 L630.7 383.5 L637.3 381.0 L644.3 381.0M644.3 401.5 L637.0 400.7 L630.3 397.3 L623.7 394.8 L622.3 392.3 L625.3 387.7" fill="none"/>
<path d="M564.0 389.0 L569.5 387.7 L575.3 386.8 L583.7 385.2 L592.0 385.2 L607.0 388.5 L615.3 391.0 L622.0 392.7 L622.3 399.0 L618.7 400.7 L611.2 399.8 L607.0 399.0 L598.7 401.5 L597.0 404.8 L592.0 405.7 L585.3 404.0 L579.5 400.7 L574.5 399.8 L570.3 402.3 L567.8 395.7Z" fill="#77c35c"/>
<path d="M587.8 421.3 L589.5 414.0 L597.3 407.3 L600.3 406.0 L605.3 406.0 L608.7 408.5 L613.2 405.2 L612.0 400.3 L618.7 401.0 L622.3 399.3 L624.0 404.3 L628.2 408.2 L632.3 407.3 L630.3 411.8 L627.3 414.3 L625.3 421.3Z" fill="#ffffc0" stroke="none"/>
<path d="M587.8 421.3 L589.5 414.0 L597.3 407.3 L600.3 406.0 L605.3 406.0 L608.7 408.5 L613.2 405.2 L612.0 400.3 L618.7 401.0 L622.3 399.3 L624.0 404.3 L628.2 408.2 L632.3 407.3 L630.3 411.8 L627.3 414.3 L625.3 421.3" fill="none"/>
<path d="M597.3 404.8 L599.0 401.5 L607.0 399.3 L611.5 400.2 L612.8 404.8 L608.7 408.2 L605.3 405.7 L600.3 405.7Z" fill="#ffffc0"/>
<path d="M622.3 399.3 L623.7 395.2 L630.3 397.7 L637.0 401.0 L632.0 406.5 L627.8 407.7 L623.7 404.0Z" fill="#77c35c"/>
<path d="M632.0 407.0 L637.3 401.0 L644.3 401.8 L644.3 412.3 L637.0 412.7 L632.8 410.7Z" fill="#1a9641" stroke="none"/>
<path d="M632.0 407.0 L637.3 401.0 L644.3 401.8M644.3 412.3 L637.0 412.7 L632.8 410.7 L632.0 407.0" fill="none"/>
<path d="M625.3 421.3 L627.8 414.0 L630.3 411.5 L637.0 413.2 L642.8 413.7 L644.3 421.3Z" fill="#fec981" stroke="none"/>
<path d="M625.3 421.3 L627.8 414.0 L630.3 411.5 L637.0 413.2 L642.8 413.7 L644.3 421.3" fill="none"/>
<path d="M563.7 421.3 L565.3 412.3 L570.3 402.7 L574.8 400.2 L579.8 401.0 L585.3 404.3 L592.0 406.0 L597.0 405.2 L597.3 407.7 L589.5 414.0 L587.8 421.3Z" fill="#c4e687" stroke="none"/>
<path d="M563.7 421.3 L565.3 412.3 L570.3 402.7 L574.8 400.2 L579.8 401.0 L585.3 404.3 L592.0 406.0 L597.0 405.2 L597.3 407.7 L589.5 414.0 L587.8 421.3" fill="none"/>
<path d="M532.3 414.0 L533.7 409.0 L542.0 404.0 L549.5 401.5 L547.8 394.0 L548.7 389.0 L557.8 389.3 L564.0 389.3 L567.8 396.0 L570.3 402.7 L565.3 412.7 L563.7 421.3 L533.7 421.3Z" fill="#c4e687" stroke="none"/>
<path d="M532.3 414.0 L533.7 409.0 L542.0 404.0 L549.5 401.5 L547.8 394.0 L548.7 389.0 L557.8 389.3 L564.0 389.3 L567.8 396.0 L570.3 402.7 L565.3 412.7 L563.7 421.3M533.7 421.3 L532.3 414.0" fill="none"/>
<path d="M529.0 399.0 L531.2 394.0 L537.0 390.7 L542.0 387.0 L547.8 388.2 L548.2 394.0 L549.5 401.5 L542.0 404.0 L533.7 405.3 L530.3 402.3Z" fill="#c4e687"/>
<path d="M506.7 382.3 L510.3 379.8 L514.5 379.0 L517.0 376.5 L523.7 374.0 L529.5 373.7 L532.0 379.8 L538.7 383.2 L542.0 386.8 L537.0 390.7 L531.2 394.0 L529.0 399.3 L522.0 399.8 L513.7 397.3 L507.0 396.5Z" fill="#ffffc0"/>
<path d="M530.0 373.7 L535.0 371.8 L539.5 376.8 L543.7 381.0 L548.7 385.2 L547.8 388.2 L542.0 386.8 L539.0 383.2 L532.3 379.8Z" fill="#ffffc0"/>
<path d="M548.7 385.7 L552.3 381.0 L557.3 376.8 L562.0 376.8 L562.8 388.2 L557.8 389.8 L548.7 388.7Z" fill="#ffffc0"/>
<path d="M562.3 379.8 L565.3 377.7 L569.0 381.0 L569.5 387.3 L563.3 388.2Z" fill="#c4e687"/>
<path d="M491.7 368.2 L493.7 368.5 L495.7 372.7 L502.3 375.2 L504.5 378.2 L506.7 382.7 L507.0 396.5 L504.5 414.0 L502.8 421.3 L491.7 421.3Z" fill="#ffffc0" stroke="none"/>
<path d="M491.7 368.2 L493.7 368.5 L495.7 372.7 L502.3 375.2 L504.5 378.2 L506.7 382.7 L507.0 396.5 L504.5 414.0 L502.8 421.3" fill="none"/>
<path d="M515.3 378.2 L517.3 373.5 L523.2 368.5 L527.3 369.3 L532.3 371.8 L530.0 373.7 L523.7 374.0 L517.0 376.5Z" fill="#ffffc0"/>
<path d="M505.0 376.0 L510.3 375.7 L514.0 377.0 L510.7 379.8 L507.0 379.0Z" fill="#c4e687"/>
<path d="M507.0 396.8 L513.7 397.7 L517.3 402.3 L514.5 407.3 L515.3 415.7 L517.0 421.3 L502.8 421.3 L504.7 414.0Z" fill="#c4e687" stroke="none"/>
<path d="M507.0 396.8 L513.7 397.7 L517.3 402.3 L514.5 407.3 L515.3 415.7 L517.0 421.3M502.8 421.3 L504.7 414.0 L507.0 396.8" fill="none"/>
<path d="M514.5 407.3 L517.8 402.3 L522.3 400.2 L529.0 399.7 L530.7 402.7 L534.0 405.3 L532.3 414.0 L531.2 421.3 L517.0 421.3 L515.3 415.7Z" fill="#77c35c" stroke="none"/>
<path d="M514.5 407.3 L517.8 402.3 L522.3 400.2 L529.0 399.7 L530.7 402.7 L534.0 405.3 L532.3 414.0 L531.2 421.3M517.0 421.3 L515.3 415.7 L514.5 407.3" fill="none"/>
<path d="M646.5 313.7 L667.3 313.7 L664.0 316.3 L654.0 317.7 L648.2 316.5Z" fill="#77c35c" stroke="none"/>
<path d="M667.3 313.7 L664.0 316.3 L654.0 317.7 L648.2 316.5 L646.5 313.7" fill="none"/>
<path d="M643.7 318.2 L654.0 318.0 L659.0 317.7 L659.8 323.2 L655.7 332.3 L649.0 338.2 L643.7 340.7Z" fill="#77c35c" stroke="none"/>
<path d="M643.7 318.2 L654.0 318.0 L659.0 317.7 L659.8 323.2 L655.7 332.3 L649.0 338.2 L643.7 340.7" fill="none"/>
<path d="M659.8 317.3 L665.7 316.0 L677.3 313.7 L720.7 313.7 L717.3 319.0 L716.5 324.0 L708.2 325.7 L709.8 332.3 L699.0 333.2 L693.2 335.7 L687.7 339.8 L679.8 334.8 L667.3 329.0 L664.8 324.0Z" fill="#ffffc0" stroke="none"/>
<path d="M659.8 317.3 L665.7 316.0 L677.3 313.7M720.7 313.7 L717.3 319.0 L716.5 324.0 L708.2 325.7 L709.8 332.3 L699.0 333.2 L693.2 335.7 L687.7 339.8 L679.8 334.8 L667.3 329.0 L664.8 324.0 L659.8 317.3" fill="none"/>
<path d="M643.7 341.5 L649.0 338.7 L656.0 332.7 L660.2 323.2 L659.8 317.7 L664.8 324.3 L667.3 329.3 L679.8 335.2 L687.7 340.2 L682.3 342.3 L680.7 346.5 L674.8 347.3 L671.5 344.8 L669.0 350.7 L662.3 357.7 L655.7 357.0 L649.0 359.0 L643.7 357.7Z" fill="#ffffc0" stroke="none"/>
<path d="M643.7 341.5 L649.0 338.7 L656.0 332.7 L660.2 323.2 L659.8 317.7 L664.8 324.3 L667.3 329.3 L679.8 335.2 L687.7 340.2 L682.3 342.3 L680.7 346.5 L674.8 347.3 L671.5 344.8 L669.0 350.7 L662.3 357.7 L655.7 357.0 L649.0 359.0 L643.7 357.7" fill="none"/>
<path d="M688.2 340.2 L693.5 335.7 L699.3 333.2 L709.8 332.7 L712.3 336.0 L715.7 340.7 L717.3 344.8 L728.2 354.0 L725.7 354.8 L717.3 351.5 L710.7 349.8 L697.3 349.8 L693.5 352.7 L690.7 346.5Z" fill="#77c35c"/>
<path d="M662.7 358.2 L669.3 351.0 L671.8 345.2 L675.2 347.7 L681.0 346.8 L682.7 342.3 L688.2 340.7 L691.0 346.8 L693.5 353.2 L689.0 359.0 L686.5 367.3 L689.0 372.3 L694.0 374.8 L693.2 378.2 L684.0 379.8 L674.8 376.5 L672.7 370.7 L669.0 364.0 L665.7 360.7Z" fill="#c4e687"/>
<path d="M643.7 358.2 L649.0 359.3 L656.0 357.3 L662.3 358.2 L665.7 361.0 L660.7 363.2 L654.0 365.7 L650.7 371.5 L648.2 381.5 L643.7 382.0Z" fill="#c4e687" stroke="none"/>
<path d="M643.7 358.2 L649.0 359.3 L656.0 357.3 L662.3 358.2 L665.7 361.0 L660.7 363.2 L654.0 365.7 L650.7 371.5 L648.2 381.5 L643.7 382.0" fill="none"/>
<path d="M648.5 381.0 L651.0 371.5 L654.3 366.0 L661.0 363.5 L666.0 361.5 L669.3 364.3 L672.7 371.0 L671.5 375.7 L667.3 378.2 L657.3 380.3Z" fill="#77c35c"/>
<path d="M643.7 382.7 L648.5 381.5 L657.7 380.7 L667.3 378.7 L666.5 384.0 L664.3 388.2 L667.3 392.3 L668.2 397.3 L660.7 399.3 L652.3 396.5 L643.7 400.7Z" fill="#77c35c" stroke="none"/>
<path d="M643.7 382.7 L648.5 381.5 L657.7 380.7 L667.3 378.7 L666.5 384.0 L664.3 388.2 L667.3 392.3 L668.2 397.3 L660.7 399.3 L652.3 396.5 L643.7 400.7" fill="none"/>
<path d="M664.8 387.3 L667.3 383.7 L668.7 378.2 L671.5 384.0 L674.0 390.7 L676.0 394.3 L669.0 397.3 L667.8 392.3Z" fill="#fec981"/>
<path d="M668.7 398.2 L676.5 394.8 L679.8 394.3 L683.2 396.0 L693.2 398.2 L690.7 408.5 L680.2 406.5 L677.3 404.8 L674.8 401.5Z" fill="#c4e687"/>
<path d="M643.7 402.3 L647.3 403.2 L648.2 406.5 L645.7 410.7 L643.7 410.7Z" fill="#1a9641" stroke="none"/>
<path d="M643.7 402.3 L647.3 403.2 L648.2 406.5 L645.7 410.7 L643.7 410.7" fill="none"/>
<path d="M646.0 410.7 L648.7 406.5 L647.7 403.2 L652.3 396.8 L660.7 399.7 L668.5 398.5 L675.2 401.8 L677.7 405.2 L677.3 409.0 L673.2 414.0 L670.7 418.2 L660.7 415.7 L650.7 413.2Z" fill="#77c35c"/>
<path d="M643.7 412.3 L650.7 413.5 L660.7 416.0 L670.7 418.5 L669.8 421.3 L643.7 421.3Z" fill="#ffffc0" stroke="none"/>
<path d="M643.7 412.3 L650.7 413.5 L660.7 416.0 L670.7 418.5 L669.8 421.3" fill="none"/>
<path d="M667.3 312.0 L677.3 314.3 L667.3 314.3Z" fill="#ffffc0" stroke="none"/>
<path d="M667.3 312.0 L677.3 314.3M667.3 314.3 L667.3 312.0" fill="none"/>
<path d="M692.3 314.3 L694.0 312.0 L704.0 311.2 L710.7 306.2 L720.7 301.2 L724.3 307.0 L720.7 314.3Z" fill="#ffffc0" stroke="none"/>
<path d="M692.3 314.3 L694.0 312.0 L704.0 311.2 L710.7 306.2 L720.7 301.2 L724.3 307.0 L720.7 314.3" fill="none"/>
<path d="M252.2 427.7 L258.0 420.7 L340.3 420.7 L340.3 466.0 L334.7 471.0 L331.3 472.7 L321.3 469.3 L318.0 468.5 L311.3 472.7 L304.7 470.2 L293.0 468.5 L289.7 469.3 L288.0 465.2 L280.5 459.3 L275.5 450.2 L271.3 440.2 L268.0 436.0 L261.3 432.7Z" fill="#ffffc0" stroke="none"/>
<path d="M252.2 427.7 L258.0 420.7M340.3 466.0 L334.7 471.0 L331.3 472.7 L321.3 469.3 L318.0 468.5 L311.3 472.7 L304.7 470.2 L293.0 468.5 L289.7 469.3 L288.0 465.2 L280.5 459.3 L275.5 450.2 L271.3 440.2 L268.0 436.0 L261.3 432.7 L252.2 427.7" fill="none"/>
<path d="M233.0 440.2 L236.3 436.8 L246.3 431.0 L252.2 427.7 L261.3 432.7 L268.0 436.0 L271.3 440.2 L275.5 450.2 L280.5 459.3 L288.0 465.2 L290.0 469.3 L288.8 474.3 L281.3 471.0 L275.5 471.8 L271.3 468.5 L263.0 466.0 L254.7 464.3 L244.7 461.8 L238.0 461.0 L233.8 459.3 L232.2 454.3Z" fill="#f07c4a"/>
<path d="M278.3 446.0 L283.8 441.3 L293.0 441.8 L297.2 451.0 L292.2 456.8 L284.7 458.5 L279.7 453.5Z" fill="#c4e687"/>
<path d="M312.7 440.2 L319.7 437.3 L327.2 437.7 L328.8 441.8 L323.0 445.7 L316.3 445.2Z" fill="#c4e687"/>
<path d="M306.0 465.2 L308.8 456.8 L310.5 449.3 L317.2 448.5 L319.7 454.3 L319.7 463.5 L316.3 469.3 L312.2 472.7 L308.0 470.2Z" fill="#c4e687"/>
<path d="M319.7 454.3 L320.5 449.3 L329.7 446.0 L333.0 442.7 L335.5 450.2 L333.0 456.8 L328.0 461.8 L321.3 464.0Z" fill="#c4e687"/>
<path d="M335.5 437.7 L340.3 436.0 L340.3 446.0 L336.3 445.2Z" fill="#c4e687" stroke="none"/>
<path d="M335.5 437.7 L340.3 436.0M340.3 446.0 L336.3 445.2 L335.5 437.7" fill="none"/>
<path d="M223.8 487.7 L222.2 485.2 L223.8 477.7 L227.2 469.3 L233.0 462.7 L238.0 461.3 L244.7 462.2 L254.7 464.7 L263.0 466.3 L271.3 468.8 L275.5 472.2 L278.8 477.7 L281.3 485.2 L284.7 489.3 L278.0 491.8 L271.3 492.7 L263.0 489.3 L258.0 486.8 L246.3 488.5 L234.7 486.8 L228.0 487.7Z" fill="#c4e687"/>
<path d="M275.5 472.2 L281.3 471.0 L288.8 474.7 L288.0 478.5 L284.7 481.8 L281.0 483.5 L278.8 477.7Z" fill="#77c35c"/>
<path d="M281.3 484.0 L285.0 481.8 L288.3 479.0 L288.0 485.2 L287.2 488.5 L284.7 489.3Z" fill="#f07c4a"/>
<path d="M290.0 469.7 L293.0 468.8 L304.7 470.5 L311.3 473.0 L316.3 477.7 L319.7 483.5 L323.0 488.5 L316.3 489.3 L308.0 487.7 L296.3 486.0 L292.2 487.3 L288.8 485.2 L289.3 476.0Z" fill="#c4e687"/>
<path d="M312.2 473.0 L318.0 468.8 L321.3 469.7 L331.3 473.0 L334.7 478.5 L335.5 489.3 L329.7 488.5 L323.3 488.5 L320.0 483.5 L316.7 477.7Z" fill="#77c35c"/>
<path d="M331.7 473.0 L335.0 471.0 L340.3 471.8 L340.3 490.2 L335.8 489.3 L335.0 478.5Z" fill="#77c35c" stroke="none"/>
<path d="M331.7 473.0 L335.0 471.0 L340.3 471.8M340.3 490.2 L335.8 489.3 L335.0 478.5 L331.7 473.0" fill="none"/>
<path d="M219.7 492.7 L223.8 488.0 L228.0 488.0 L234.7 487.2 L246.3 488.8 L258.0 487.2 L263.0 489.7 L271.3 493.0 L274.7 497.7 L278.8 502.7 L281.3 506.0 L278.0 511.8 L274.7 517.7 L268.0 520.2 L258.0 521.0 L253.0 522.7 L246.3 519.3 L238.0 509.3 L229.7 499.3 L222.2 494.3Z" fill="#77c35c"/>
<path d="M271.3 493.0 L278.0 492.2 L285.0 489.7 L292.2 487.7 L293.8 491.0 L292.2 496.0 L288.0 501.0 L285.5 505.2 L281.3 506.0 L278.8 502.7 L274.7 497.7Z" fill="#77c35c"/>
<path d="M339.7 420.7 L366.7 420.7 L365.0 425.2 L360.0 429.3 L354.2 432.7 L346.7 432.7 L339.7 434.3Z" fill="#ffffc0" stroke="none"/>
<path d="M366.7 420.7 L365.0 425.2 L360.0 429.3 L354.2 432.7 L346.7 432.7 L339.7 434.3" fill="none"/>
<path d="M354.2 433.0 L360.3 429.7 L365.3 427.7 L369.2 428.5 L372.5 436.8 L373.3 443.5 L367.5 445.2 L361.7 441.0 L356.7 437.7Z" fill="#ffffc0"/>
<path d="M340.8 436.8 L346.7 433.0 L354.2 433.0 L356.7 437.7 L352.5 442.7 L345.8 441.8 L342.5 444.3Z" fill="#77c35c"/>
<path d="M339.7 445.2 L342.5 444.7 L345.8 442.2 L352.5 443.0 L357.0 438.0 L361.7 441.3 L360.0 447.7 L360.8 461.0 L356.7 464.3 L346.7 463.5 L339.7 461.0Z" fill="#c4e687" stroke="none"/>
<path d="M339.7 445.2 L342.5 444.7 L345.8 442.2 L352.5 443.0 L357.0 438.0 L361.7 441.3 L360.0 447.7 L360.8 461.0 L356.7 464.3 L346.7 463.5 L339.7 461.0" fill="none"/>
<path d="M360.3 447.7 L363.3 445.7 L368.3 446.0 L373.3 454.3 L377.5 460.2 L378.0 465.2 L375.8 469.3 L370.0 471.0 L365.0 468.5 L361.3 461.0Z" fill="#77c35c"/>
<path d="M369.7 446.0 L373.3 443.8 L377.5 440.2 L381.7 446.0 L385.8 451.0 L389.2 455.2 L384.2 458.0 L378.3 459.3 L373.7 454.3Z" fill="#ffffc0"/>
<path d="M376.3 439.3 L380.8 433.5 L390.0 431.8 L398.3 431.3 L408.3 432.7 L410.8 438.5 L408.3 442.7 L406.7 450.2 L401.7 452.7 L395.0 456.8 L389.7 455.2 L386.2 451.0 L382.0 446.0 L377.8 440.2Z" fill="#c4e687"/>
<path d="M366.7 420.7 L396.7 420.7 L394.2 425.2 L395.0 430.2 L390.0 431.8 L380.8 433.5 L376.3 437.7 L372.5 436.8 L369.2 428.5Z" fill="#c4e687" stroke="none"/>
<path d="M396.7 420.7 L394.2 425.2 L395.0 430.2 L390.0 431.8 L380.8 433.5 L376.3 437.7 L372.5 436.8 L369.2 428.5 L366.7 420.7" fill="none"/>
<path d="M394.7 425.2 L397.5 422.3 L405.8 422.7 L406.7 426.0 L402.5 431.0 L398.3 431.3 L395.3 430.2Z" fill="#77c35c"/>
<path d="M407.0 432.7 L413.3 430.2 L420.0 429.3 L426.7 426.8 L434.2 428.5 L435.8 437.7 L435.0 446.0 L430.0 447.7 L421.7 450.2 L413.3 451.3 L406.7 450.2 L408.7 442.7 L411.2 438.5Z" fill="#c4e687"/>
<path d="M412.5 420.7 L436.7 420.7 L434.2 428.5 L426.7 426.8 L421.7 424.3 L416.7 422.7Z" fill="#c4e687" stroke="none"/>
<path d="M436.7 420.7 L434.2 428.5 L426.7 426.8 L421.7 424.3 L416.7 422.7 L412.5 420.7" fill="none"/>
<path d="M434.2 428.5 L437.0 420.7 L453.3 420.7 L455.0 429.3 L463.3 432.7 L473.3 434.0 L481.7 435.2 L492.3 439.3 L492.3 456.8 L486.7 456.8 L481.7 456.8 L478.3 451.0 L471.7 447.7 L463.3 442.7 L455.0 441.0 L446.7 438.5 L440.0 436.3 L436.2 436.8Z" fill="#ffffc0" stroke="none"/>
<path d="M434.2 428.5 L437.0 420.7M453.3 420.7 L455.0 429.3 L463.3 432.7 L473.3 434.0 L481.7 435.2 L492.3 439.3M492.3 456.8 L486.7 456.8 L481.7 456.8 L478.3 451.0 L471.7 447.7 L463.3 442.7 L455.0 441.0 L446.7 438.5 L440.0 436.3 L436.2 436.8 L434.2 428.5" fill="none"/>
<path d="M455.0 420.7 L466.3 420.7 L464.2 426.0 L465.3 430.2 L469.2 433.0 L463.3 432.7 L455.3 429.3Z" fill="#ffffc0" stroke="none"/>
<path d="M466.3 420.7 L464.2 426.0 L465.3 430.2 L469.2 433.0 L463.3 432.7 L455.3 429.3 L455.0 420.7" fill="none"/>
<path d="M464.2 426.0 L466.7 420.7 L473.3 420.7 L476.7 427.7 L475.8 433.5 L469.2 432.7 L465.3 430.2Z" fill="#77c35c" stroke="none"/>
<path d="M464.2 426.0 L466.7 420.7M473.3 420.7 L476.7 427.7 L475.8 433.5 L469.2 432.7 L465.3 430.2 L464.2 426.0" fill="none"/>
<path d="M473.3 420.7 L492.3 420.7 L492.3 438.5 L485.8 436.8 L481.7 435.2 L476.2 433.8 L477.0 427.7Z" fill="#ffffc0" stroke="none"/>
<path d="M492.3 438.5 L485.8 436.8 L481.7 435.2 L476.2 433.8 L477.0 427.7 L473.3 420.7" fill="none"/>
<path d="M436.7 437.2 L440.3 436.7 L446.7 438.8 L452.0 441.8 L449.2 446.0 L446.7 449.0 L440.0 446.8 L436.3 444.3Z" fill="#77c35c"/>
<path d="M436.7 448.5 L440.0 447.2 L447.0 449.3 L449.5 446.0 L452.5 441.8 L455.3 441.3 L463.7 443.0 L472.0 448.0 L478.7 451.3 L481.7 457.2 L473.3 459.0 L466.7 459.7 L460.0 456.8 L450.0 455.2 L440.0 453.5Z" fill="#c4e687"/>
<path d="M484.7 459.3 L487.0 457.2 L492.3 457.2 L492.3 472.7 L488.7 470.2 L490.0 465.2Z" fill="#77c35c" stroke="none"/>
<path d="M484.7 459.3 L487.0 457.2 L492.3 457.2M492.3 472.7 L488.7 470.2 L490.0 465.2 L484.7 459.3" fill="none"/>
<path d="M438.3 454.3 L440.0 453.8 L450.0 455.5 L460.0 457.2 L466.7 460.0 L473.7 459.3 L481.7 457.5 L485.0 459.7 L490.0 465.5 L486.7 469.3 L481.7 474.3 L476.7 477.7 L470.0 484.3 L466.7 485.2 L460.0 481.8 L453.3 480.2 L448.3 479.3 L442.0 481.8 L440.8 474.3 L438.7 467.7 L439.5 461.0Z" fill="#ffffc0"/>
<path d="M459.2 506.8 L460.0 501.0 L463.7 498.0 L468.0 491.0 L467.0 485.5 L470.3 484.7 L477.0 478.0 L482.0 474.7 L486.7 472.7 L492.3 477.7 L492.3 499.3 L488.3 501.0 L481.7 503.5 L473.3 504.3 L466.7 505.2Z" fill="#ffffc0" stroke="none"/>
<path d="M459.2 506.8 L460.0 501.0 L463.7 498.0 L468.0 491.0 L467.0 485.5 L470.3 484.7 L477.0 478.0 L482.0 474.7 L486.7 472.7 L492.3 477.7M492.3 499.3 L488.3 501.0 L481.7 503.5 L473.3 504.3 L466.7 505.2 L459.2 506.8" fill="none"/>
<path d="M413.7 451.7 L422.0 450.5 L430.3 448.0 L435.3 446.3 L438.3 454.3 L437.5 457.3 L429.2 458.5 L426.2 463.5 L429.2 467.2 L433.3 470.5 L440.3 470.8 L441.2 474.3 L442.0 479.7 L436.7 481.0 L431.7 483.5 L427.5 483.0 L421.7 486.0 L416.7 483.5 L411.7 479.3 L413.7 476.0 L416.2 471.0 L417.0 464.3 L415.3 456.8Z" fill="#c4e687"/>
<path d="M426.2 463.5 L429.2 458.5 L437.5 457.3 L439.2 461.3 L438.7 468.0 L440.0 470.5 L433.3 470.2 L429.2 466.8Z" fill="#c4e687"/>
<path d="M400.3 456.8 L402.0 453.0 L407.0 450.5 L413.3 451.7 L415.0 456.8 L416.7 464.3 L415.8 471.0 L413.3 476.0 L406.7 478.5 L401.7 477.7 L400.8 467.7Z" fill="#77c35c"/>
<path d="M377.0 465.2 L378.7 459.7 L384.5 458.3 L389.5 455.5 L395.3 457.2 L400.0 457.2 L400.8 467.7 L401.7 478.0 L399.2 482.7 L391.7 485.2 L385.0 485.2 L377.5 484.3 L376.2 476.0 L376.2 469.7Z" fill="#c4e687"/>
<path d="M339.7 462.7 L346.7 463.8 L354.2 469.3 L348.3 475.2 L342.5 473.5 L339.7 474.0Z" fill="#ffffc0" stroke="none"/>
<path d="M339.7 462.7 L346.7 463.8 L354.2 469.3 L348.3 475.2 L342.5 473.5 L339.7 474.0" fill="none"/>
<path d="M343.7 474.3 L348.7 475.5 L354.5 469.7 L356.7 464.7 L361.3 465.2 L365.0 468.8 L367.5 472.7 L362.5 476.8 L360.8 482.7 L356.7 484.7 L350.0 481.8Z" fill="#ffffc0"/>
<path d="M339.7 476.0 L343.3 474.7 L350.0 482.2 L356.7 485.0 L358.3 487.7 L353.3 490.2 L345.0 490.2 L339.7 489.7Z" fill="#77c35c" stroke="none"/>
<path d="M339.7 476.0 L343.3 474.7 L350.0 482.2 L356.7 485.0 L358.3 487.7 L353.3 490.2 L345.0 490.2 L339.7 489.7" fill="none"/>
<path d="M358.7 487.7 L361.2 483.0 L362.8 477.2 L367.8 473.0 L370.3 471.3 L376.2 469.7 L376.2 476.0 L377.0 484.3 L373.3 485.2 L370.0 487.7 L372.5 491.8 L365.0 492.7 L360.0 491.0Z" fill="#77c35c"/>
<path d="M345.3 491.0 L353.7 490.5 L360.0 491.3 L365.3 493.0 L372.8 492.3 L375.8 492.3 L377.5 499.3 L378.7 504.3 L374.2 508.5 L365.8 511.8 L361.7 516.8 L357.0 519.0 L351.2 516.0 L348.7 507.7 L346.2 496.0Z" fill="#c4e687"/>
<path d="M376.2 492.3 L378.7 490.5 L383.7 495.5 L387.8 502.2 L389.5 504.7 L385.0 507.7 L379.2 504.3 L377.8 499.3Z" fill="#c4e687"/>
<path d="M373.3 485.5 L377.0 484.7 L385.0 487.2 L390.0 486.8 L393.3 491.0 L397.5 494.3 L395.8 498.5 L390.0 504.3 L387.5 501.8 L383.3 495.2 L378.3 490.2Z" fill="#f07c4a"/>
<path d="M370.3 488.0 L373.3 486.0 L375.8 491.8 L372.8 492.2Z" fill="#ffffc0"/>
<path d="M339.7 491.0 L345.0 490.7 L345.8 496.0 L348.3 507.7 L350.8 516.0 L356.7 519.3 L355.8 522.7 L354.2 528.3 L339.7 528.3Z" fill="#d7191c" stroke="none"/>
<path d="M339.7 491.0 L345.0 490.7 L345.8 496.0 L348.3 507.7 L350.8 516.0 L356.7 519.3 L355.8 522.7 L354.2 528.3" fill="none"/>
<path d="M392.0 485.5 L399.5 483.0 L402.0 478.5 L407.0 478.8 L412.0 479.7 L417.0 483.8 L422.0 486.3 L427.0 485.2 L427.8 489.3 L422.5 491.8 L416.7 493.5 L411.7 496.0 L404.2 494.3 L397.8 494.3 L393.7 491.0 L390.3 486.8Z" fill="#c4e687"/>
<path d="M390.3 504.3 L396.2 498.8 L397.8 494.7 L404.5 494.7 L411.7 496.3 L412.0 502.7 L412.8 506.8 L405.0 507.3 L396.7 506.3Z" fill="#c4e687"/>
<path d="M427.8 485.2 L432.0 483.8 L437.0 481.3 L442.0 482.3 L444.2 486.8 L448.3 488.5 L444.2 490.2 L436.7 491.0 L432.5 494.3 L428.7 491.0Z" fill="#77c35c"/>
<path d="M442.3 482.2 L448.7 479.7 L453.7 480.5 L460.3 482.2 L467.0 485.5 L468.0 491.0 L464.2 496.8 L460.0 497.7 L455.0 495.2 L451.7 490.2 L448.7 488.5 L444.5 486.8Z" fill="#77c35c"/>
<path d="M412.0 496.3 L417.0 493.8 L422.8 492.2 L427.8 489.7 L432.5 494.7 L437.0 491.3 L444.5 490.5 L448.7 488.8 L452.0 490.5 L455.3 495.5 L458.3 498.5 L459.2 506.8 L456.7 511.0 L448.3 516.0 L440.0 513.5 L430.0 509.3 L421.7 506.0 L416.7 508.0 L412.8 506.8 L412.3 502.7Z" fill="#77c35c"/>
<path d="M416.2 508.5 L421.7 506.3 L430.0 509.7 L440.0 513.8 L448.3 516.3 L446.7 521.0 L445.8 525.2 L438.3 524.3 L430.0 520.2 L422.8 516.8 L418.3 511.8Z" fill="#77c35c"/>
<path d="M447.5 516.8 L456.7 511.3 L459.2 508.5 L465.0 509.3 L467.5 512.7 L464.2 519.3 L460.0 524.3 L453.3 526.0 L448.0 523.5Z" fill="#fec981"/>
<path d="M382.8 508.5 L385.3 508.0 L390.0 506.0 L396.7 506.7 L405.0 507.7 L409.2 508.5 L405.0 514.3 L400.8 519.3 L396.7 524.3 L390.0 521.0 L385.3 515.2Z" fill="#77c35c"/>
<path d="M402.8 517.7 L405.3 514.3 L409.5 508.8 L412.8 507.2 L416.2 508.8 L418.7 512.2 L422.5 517.2 L419.2 521.8 L413.3 523.5 L406.7 521.0Z" fill="#77c35c"/>
<path d="M460.3 524.3 L464.5 519.3 L467.8 512.7 L465.3 509.3 L459.5 507.7 L467.0 505.5 L473.7 504.7 L482.0 503.8 L488.7 501.3 L490.8 507.7 L492.3 509.3 L492.3 528.3 L456.7 528.3Z" fill="#77c35c" stroke="none"/>
<path d="M460.3 524.3 L464.5 519.3 L467.8 512.7 L465.3 509.3 L459.5 507.7 L467.0 505.5 L473.7 504.7 L482.0 503.8 L488.7 501.3 L490.8 507.7 L492.3 509.3M456.7 528.3 L460.3 524.3" fill="none"/>
<path d="M488.3 516.0 L492.3 513.5 L492.3 528.3 L487.5 527.7Z" fill="#ffffc0" stroke="none"/>
<path d="M488.3 516.0 L492.3 513.5M492.3 528.3 L487.5 527.7 L488.3 516.0" fill="none"/>
<path d="M395.0 528.3 L397.0 524.7 L401.2 519.7 L402.8 518.0 L407.0 521.3 L413.7 523.8 L419.5 522.2 L422.8 517.2 L430.3 520.5 L438.7 524.7 L440.0 528.3Z" fill="#c4e687" stroke="none"/>
<path d="M395.0 528.3 L397.0 524.7 L401.2 519.7 L402.8 518.0 L407.0 521.3 L413.7 523.8 L419.5 522.2 L422.8 517.2 L430.3 520.5 L438.7 524.7 L440.0 528.3" fill="none"/>
<path d="M354.2 528.3 L356.2 522.7 L357.0 519.3 L362.0 517.2 L366.2 512.2 L374.5 508.8 L375.8 511.8 L380.8 514.3 L385.3 515.5 L390.0 521.3 L396.7 524.7 L395.0 528.3Z" fill="#77c35c" stroke="none"/>
<path d="M354.2 528.3 L356.2 522.7 L357.0 519.3 L362.0 517.2 L366.2 512.2 L374.5 508.8 L375.8 511.8 L380.8 514.3 L385.3 515.5 L390.0 521.3 L396.7 524.7 L395.0 528.3" fill="none"/>
<path d="M375.3 508.5 L379.2 504.7 L382.8 508.5 L384.2 514.3 L380.8 516.8 L376.7 514.3Z" fill="#c4e687"/>
<path d="M491.7 420.7 L502.0 420.7 L502.8 426.0 L497.0 432.7 L491.7 437.7Z" fill="#ffffc0" stroke="none"/>
<path d="M502.0 420.7 L502.8 426.0 L497.0 432.7 L491.7 437.7" fill="none"/>
<path d="M502.3 420.7 L542.0 420.7 L540.3 426.0 L541.2 431.0 L539.5 436.0 L532.0 439.3 L527.0 441.8 L521.2 441.0 L513.7 437.7 L507.0 432.7 L503.2 426.0Z" fill="#c4e687" stroke="none"/>
<path d="M542.0 420.7 L540.3 426.0 L541.2 431.0 L539.5 436.0 L532.0 439.3 L527.0 441.8 L521.2 441.0 L513.7 437.7 L507.0 432.7 L503.2 426.0 L502.3 420.7" fill="none"/>
<path d="M540.7 426.0 L542.3 420.7 L590.3 420.7 L592.0 429.3 L588.7 436.8 L589.0 441.8 L578.7 442.7 L570.3 441.0 L564.5 439.0 L562.0 446.0 L557.0 452.7 L552.0 447.7 L547.0 442.7 L542.0 437.7 L541.5 431.0Z" fill="#c4e687" stroke="none"/>
<path d="M540.7 426.0 L542.3 420.7M590.3 420.7 L592.0 429.3 L588.7 436.8 L589.0 441.8 L578.7 442.7 L570.3 441.0 L564.5 439.0 L562.0 446.0 L557.0 452.7 L552.0 447.7 L547.0 442.7 L542.0 437.7 L541.5 431.0 L540.7 426.0" fill="none"/>
<path d="M590.3 420.7 L625.3 420.7 L624.5 431.0 L626.2 437.7 L629.5 441.3 L628.7 446.8 L620.3 451.8 L612.8 456.8 L605.3 461.0 L597.8 455.2 L596.2 446.0 L589.0 442.3 L589.0 436.8 L592.3 429.3Z" fill="#ffffc0" stroke="none"/>
<path d="M625.3 420.7 L624.5 431.0 L626.2 437.7 L629.5 441.3 L628.7 446.8 L620.3 451.8 L612.8 456.8 L605.3 461.0 L597.8 455.2 L596.2 446.0 L589.0 442.3 L589.0 436.8 L592.3 429.3 L590.3 420.7" fill="none"/>
<path d="M625.3 420.7 L644.3 420.7 L644.3 441.0 L629.5 441.3 L626.2 437.7 L624.8 431.0Z" fill="#77c35c" stroke="none"/>
<path d="M644.3 441.0 L629.5 441.3 L626.2 437.7 L624.8 431.0 L625.3 420.7" fill="none"/>
<path d="M635.3 420.7 L644.3 420.7 L644.3 431.0 L639.5 428.5 L636.2 425.2Z" fill="#fec981" stroke="none"/>
<path d="M644.3 431.0 L639.5 428.5 L636.2 425.2 L635.3 420.7" fill="none"/>
<path d="M543.7 473.5 L560.3 461.0 L560.7 457.2 L565.7 460.5 L570.7 456.3 L565.7 452.2 L569.0 449.7 L575.7 448.8 L585.7 451.3 L592.3 453.8 L598.2 455.5 L605.7 461.0 L603.7 465.2 L593.7 466.0 L587.0 471.0 L582.8 477.7 L575.3 481.8 L570.3 482.7 L563.7 478.5 L555.3 475.2Z" fill="#ffffc0"/>
<path d="M557.0 452.7 L562.0 446.0 L564.5 439.0 L570.3 441.0 L578.7 442.7 L589.0 442.3 L596.2 446.0 L597.8 455.2 L592.0 453.5 L585.3 451.0 L575.3 448.5 L568.7 449.3 L565.3 451.8 L570.3 456.0 L565.3 460.2 L560.3 456.8Z" fill="#f07c4a"/>
<path d="M526.2 481.8 L532.0 478.5 L542.0 474.3 L555.3 475.5 L564.0 478.8 L570.7 483.0 L570.3 486.8 L563.7 489.3 L556.2 492.7 L552.0 496.0 L542.0 492.7 L532.0 486.8Z" fill="#ffffc0"/>
<path d="M491.7 437.7 L497.0 433.0 L503.2 426.3 L507.3 433.0 L514.0 438.0 L521.5 441.3 L527.3 442.2 L532.3 439.7 L539.5 436.3 L542.0 438.0 L547.3 443.0 L552.3 448.0 L557.3 453.0 L560.3 457.2 L560.0 461.0 L543.7 473.0 L533.7 476.8 L525.3 471.0 L517.0 464.3 L510.3 461.0 L502.0 459.3 L495.3 454.3 L491.7 456.0Z" fill="#77c35c" stroke="none"/>
<path d="M491.7 437.7 L497.0 433.0 L503.2 426.3 L507.3 433.0 L514.0 438.0 L521.5 441.3 L527.3 442.2 L532.3 439.7 L539.5 436.3 L542.0 438.0 L547.3 443.0 L552.3 448.0 L557.3 453.0 L560.3 457.2 L560.0 461.0 L543.7 473.0 L533.7 476.8 L525.3 471.0 L517.0 464.3 L510.3 461.0 L502.0 459.3 L495.3 454.3 L491.7 456.0" fill="none"/>
<path d="M538.3 446.0 L541.2 437.7 L545.3 438.5 L547.8 445.2 L547.0 449.3 L541.2 450.7Z" fill="#ffffc0"/>
<path d="M542.0 451.8 L547.8 449.7 L549.5 446.8 L552.8 448.5 L556.2 453.5 L548.7 456.8 L543.7 456.8Z" fill="#77c35c"/>
<path d="M500.3 448.5 L507.0 446.8 L513.7 450.2 L518.7 447.7 L524.5 449.3 L526.2 454.3 L523.7 460.2 L515.3 461.0 L508.7 458.5 L502.0 453.5Z" fill="#77c35c"/>
<path d="M502.3 450.2 L507.8 447.7 L513.3 451.0 L508.7 454.3 L504.5 453.5Z" fill="#77c35c"/>
<path d="M491.7 456.3 L495.7 454.7 L502.3 459.7 L510.7 461.3 L513.7 466.0 L508.7 469.3 L502.0 471.0 L497.0 469.3 L491.7 472.7Z" fill="#77c35c" stroke="none"/>
<path d="M491.7 456.3 L495.7 454.7 L502.3 459.7 L510.7 461.3 L513.7 466.0 L508.7 469.3 L502.0 471.0 L497.0 469.3 L491.7 472.7" fill="none"/>
<path d="M491.7 473.0 L497.3 469.7 L502.3 471.3 L509.0 469.7 L514.0 466.3 L517.3 464.7 L525.7 471.3 L532.0 476.8 L526.2 481.8 L524.5 486.8 L518.7 492.7 L512.0 495.2 L502.0 494.3 L497.0 491.0 L495.3 484.3 L491.7 481.8Z" fill="#ffffc0" stroke="none"/>
<path d="M491.7 473.0 L497.3 469.7 L502.3 471.3 L509.0 469.7 L514.0 466.3 L517.3 464.7 L525.7 471.3 L532.0 476.8 L526.2 481.8 L524.5 486.8 L518.7 492.7 L512.0 495.2 L502.0 494.3 L497.0 491.0 L495.3 484.3 L491.7 481.8" fill="none"/>
<path d="M491.7 482.3 L495.3 484.7 L497.0 491.3 L500.3 494.3 L495.3 497.7 L491.7 499.3Z" fill="#ffffc0" stroke="none"/>
<path d="M491.7 482.3 L495.3 484.7 L497.0 491.3 L500.3 494.3 L495.3 497.7 L491.7 499.3" fill="none"/>
<path d="M491.7 499.7 L495.7 498.0 L500.7 494.7 L512.0 495.5 L515.3 497.7 L512.8 502.7 L514.5 507.7 L508.7 511.8 L500.3 513.5 L491.7 509.3Z" fill="#77c35c" stroke="none"/>
<path d="M491.7 499.7 L495.7 498.0 L500.7 494.7 L512.0 495.5 L515.3 497.7 L512.8 502.7 L514.5 507.7 L508.7 511.8 L500.3 513.5 L491.7 509.3" fill="none"/>
<path d="M513.2 503.0 L515.7 498.0 L519.0 493.0 L524.8 487.2 L526.5 484.3 L532.3 487.2 L541.2 492.7 L537.8 499.3 L536.2 507.7 L537.8 516.0 L542.0 522.7 L545.3 528.3 L517.0 528.3 L515.3 521.0 L514.8 508.0Z" fill="#77c35c" stroke="none"/>
<path d="M513.2 503.0 L515.7 498.0 L519.0 493.0 L524.8 487.2 L526.5 484.3 L532.3 487.2 L541.2 492.7 L537.8 499.3 L536.2 507.7 L537.8 516.0 L542.0 522.7 L545.3 528.3M517.0 528.3 L515.3 521.0 L514.8 508.0 L513.2 503.0" fill="none"/>
<path d="M536.5 507.7 L538.2 499.3 L541.5 493.0 L552.0 496.3 L552.0 498.5 L554.5 506.0 L553.7 514.3 L558.7 522.7 L561.2 528.3 L545.7 528.3 L542.3 522.7 L538.2 516.0Z" fill="#ffffc0" stroke="none"/>
<path d="M536.5 507.7 L538.2 499.3 L541.5 493.0 L552.0 496.3 L552.0 498.5 L554.5 506.0 L553.7 514.3 L558.7 522.7 L561.2 528.3M545.7 528.3 L542.3 522.7 L538.2 516.0 L536.5 507.7" fill="none"/>
<path d="M491.7 510.2 L500.3 513.8 L508.7 512.2 L514.5 508.5 L515.3 521.0 L517.0 528.3 L491.7 528.3Z" fill="#ffffc0" stroke="none"/>
<path d="M491.7 510.2 L500.3 513.8 L508.7 512.2 L514.5 508.5 L515.3 521.0 L517.0 528.3" fill="none"/>
<path d="M597.7 405.0 L608.0 399.5 L621.7 400.3 L624.7 406.2 L631.3 407.8 L628.8 413.3 L626.3 419.2 L624.7 420.3 L624.7 428.7 L625.5 438.7 L628.0 441.7 L629.2 447.5 L619.7 452.5 L608.0 460.0 L605.5 461.7 L597.7 455.8Z" fill="#ffffc0" stroke="none"/>
<path d="M597.7 405.0 L608.0 399.5 L621.7 400.3 L624.7 406.2 L631.3 407.8 L628.8 413.3 L626.3 419.2 L624.7 420.3 L624.7 428.7 L625.5 438.7 L628.0 441.7 L629.2 447.5 L619.7 452.5 L608.0 460.0 L605.5 461.7 L597.7 455.8" fill="none"/>
<path d="M597.7 401.7 L604.7 400.0 L610.5 400.8 L612.2 405.8 L608.0 408.3 L604.7 405.0 L597.7 405.8Z" fill="#ffffc0" stroke="none"/>
<path d="M597.7 401.7 L604.7 400.0 L610.5 400.8 L612.2 405.8 L608.0 408.3 L604.7 405.0 L597.7 405.8" fill="none"/>
<path d="M623.0 389.7 L668.0 389.7 L667.2 396.7 L659.7 399.2 L655.5 396.7 L651.3 397.5 L648.0 401.7 L637.2 401.7 L631.3 398.3 L623.0 395.0Z" fill="#77c35c" stroke="none"/>
<path d="M668.0 389.7 L667.2 396.7 L659.7 399.2 L655.5 396.7 L651.3 397.5 L648.0 401.7 L637.2 401.7 L631.3 398.3 L623.0 395.0 L623.0 389.7" fill="none"/>
<path d="M622.2 395.3 L631.3 398.7 L636.7 402.0 L631.3 407.5 L624.7 405.8 L621.7 400.8Z" fill="#77c35c"/>
<path d="M631.3 407.5 L637.2 402.0 L648.0 401.7 L648.8 405.0 L645.5 410.8 L639.7 413.3 L633.8 412.5Z" fill="#1a9641"/>
<path d="M645.8 410.8 L649.2 405.0 L648.3 401.7 L651.7 397.5 L655.8 396.7 L660.0 399.5 L667.2 399.2 L671.3 401.7 L678.0 405.8 L675.5 410.0 L671.3 415.0 L669.7 418.3 L658.0 416.7 L648.0 413.3Z" fill="#77c35c"/>
<path d="M667.2 389.7 L673.8 389.7 L676.3 394.2 L671.3 397.0 L668.0 396.7Z" fill="#fec981" stroke="none"/>
<path d="M673.8 389.7 L676.3 394.2 L671.3 397.0 L668.0 396.7 L667.2 389.7" fill="none"/>
<path d="M667.5 399.2 L671.7 397.0 L676.7 394.5 L679.7 393.3 L693.0 397.5 L690.5 409.2 L684.7 407.5 L678.3 405.8 L671.7 401.7Z" fill="#c4e687"/>
<path d="M626.3 419.2 L628.0 415.0 L631.3 411.7 L633.8 412.8 L639.7 413.7 L641.3 418.3 L642.2 423.3 L640.5 428.3 L638.0 429.2 L635.5 425.0 L634.7 420.0Z" fill="#fec981"/>
<path d="M640.5 428.7 L642.5 423.3 L641.7 418.3 L640.0 413.7 L645.8 411.2 L648.3 413.7 L658.3 417.0 L670.0 418.7 L669.7 425.8 L666.3 432.5 L661.3 437.5 L654.7 438.3 L648.8 439.2 L646.3 434.2Z" fill="#ffffc0"/>
<path d="M624.7 420.0 L626.7 419.5 L635.0 420.3 L635.8 425.3 L638.3 429.5 L640.8 429.2 L646.7 434.5 L648.8 439.5 L643.0 442.0 L638.0 440.0 L629.7 440.8 L625.5 438.3 L624.7 428.3Z" fill="#77c35c"/>
<path d="M597.7 456.3 L605.5 462.0 L603.0 466.7 L597.7 467.0Z" fill="#c4e687" stroke="none"/>
<path d="M597.7 456.3 L605.5 462.0 L603.0 466.7 L597.7 467.0" fill="none"/>
<path d="M339.7 527.7 L352.5 527.7 L350.0 532.2 L343.3 534.7 L339.7 535.5Z" fill="#d7191c" stroke="none"/>
<path d="M352.5 527.7 L350.0 532.2 L343.3 534.7 L339.7 535.5" fill="none"/>
<path d="M339.7 535.5 L343.3 535.0 L350.3 532.5 L352.8 527.7 L395.0 527.7 L394.2 534.7 L391.7 538.8 L385.0 538.0 L373.3 538.8 L363.3 541.3 L356.7 544.7 L358.3 551.3 L355.0 558.0 L350.8 558.0 L339.7 558.0Z" fill="#77c35c" stroke="none"/>
<path d="M339.7 535.5 L343.3 535.0 L350.3 532.5 L352.8 527.7M395.0 527.7 L394.2 534.7 L391.7 538.8 L385.0 538.0 L373.3 538.8 L363.3 541.3 L356.7 544.7 L358.3 551.3 L355.0 558.0 L350.8 558.0 L339.7 558.0" fill="none"/>
<path d="M357.0 544.7 L363.7 541.3 L373.7 539.2 L385.0 538.3 L387.5 542.2 L384.2 545.5 L373.3 548.0 L365.0 550.5 L359.2 552.2Z" fill="#77c35c"/>
<path d="M366.7 553.0 L373.7 548.3 L384.5 545.8 L387.8 542.5 L392.0 539.2 L397.5 538.8 L400.3 543.8 L396.7 549.7 L391.7 554.7 L386.7 559.7 L378.3 558.8 L370.0 558.0Z" fill="#77c35c"/>
<path d="M386.2 560.5 L392.0 555.0 L397.0 550.0 L400.8 544.7 L403.3 549.7 L401.7 554.7 L403.3 561.3 L402.5 567.7 L396.7 566.3 L388.3 566.7Z" fill="#77c35c"/>
<path d="M355.3 558.3 L359.5 552.5 L366.7 553.3 L370.0 558.3 L378.3 559.2 L386.2 560.8 L388.0 566.7 L385.8 568.8 L381.7 574.7 L378.3 573.0 L368.3 572.2 L361.7 571.3 L360.0 564.7Z" fill="#c4e687"/>
<path d="M395.3 527.7 L446.7 527.7 L450.0 533.0 L440.0 535.5 L430.0 536.3 L420.0 543.0 L411.7 545.5 L406.7 548.0 L401.7 543.0 L397.8 538.3 L394.5 534.7Z" fill="#c4e687" stroke="none"/>
<path d="M446.7 527.7 L450.0 533.0 L440.0 535.5 L430.0 536.3 L420.0 543.0 L411.7 545.5 L406.7 548.0 L401.7 543.0 L397.8 538.3 L394.5 534.7 L395.3 527.7" fill="none"/>
<path d="M401.2 553.0 L405.8 546.7 L410.0 550.5 L412.5 558.0 L415.0 562.2 L411.7 564.7 L413.3 578.0 L407.5 576.3 L404.2 573.0 L403.0 561.3Z" fill="#c4e687"/>
<path d="M410.3 550.5 L412.0 545.8 L419.2 544.7 L420.8 551.3 L430.0 554.7 L440.0 558.8 L443.3 563.0 L451.7 565.5 L456.7 569.7 L460.0 571.7 L453.3 573.0 L452.5 578.0 L446.7 580.5 L443.3 583.0 L437.5 587.2 L430.0 583.8 L423.3 582.2 L413.3 579.7 L412.0 565.0 L415.3 562.5 L412.8 558.0Z" fill="#77c35c"/>
<path d="M419.5 543.3 L430.0 536.7 L440.0 535.8 L450.0 536.3 L451.7 539.7 L446.7 543.8 L455.0 546.3 L456.7 550.5 L448.3 553.0 L446.7 556.3 L449.2 561.3 L448.3 563.8 L443.3 562.7 L440.0 558.5 L430.0 554.3 L421.2 551.3Z" fill="#ffffc0"/>
<path d="M445.3 553.0 L456.7 550.8 L460.0 553.0 L466.7 559.7 L471.7 563.8 L470.0 568.0 L463.3 569.7 L457.0 569.3 L452.0 565.5 L449.2 561.3 L447.0 556.3Z" fill="#c4e687"/>
<path d="M460.3 571.7 L463.7 569.7 L470.3 568.3 L476.7 571.7 L478.3 576.3 L470.0 576.3 L464.2 574.7Z" fill="#77c35c"/>
<path d="M442.0 573.8 L446.7 575.5 L450.3 578.8 L446.7 580.8 L443.3 578.0Z" fill="#ffffc0"/>
<path d="M452.8 573.0 L460.0 572.0 L463.7 574.7 L460.0 577.5 L453.3 578.3Z" fill="#ffffc0"/>
<path d="M447.0 527.7 L492.3 527.7 L492.3 534.7 L483.3 536.3 L476.7 539.7 L471.7 537.2 L463.3 542.2 L459.2 546.3 L455.3 546.3 L447.0 543.8 L452.0 539.7 L450.3 533.0Z" fill="#77c35c" stroke="none"/>
<path d="M492.3 534.7 L483.3 536.3 L476.7 539.7 L471.7 537.2 L463.3 542.2 L459.2 546.3 L455.3 546.3 L447.0 543.8 L452.0 539.7 L450.3 533.0 L447.0 527.7" fill="none"/>
<path d="M474.5 561.3 L477.5 556.3 L478.7 550.8 L485.3 545.8 L492.3 542.5 L492.3 551.3 L490.0 553.0 L486.7 558.0 L488.3 564.7 L485.0 569.7 L481.7 575.5 L478.7 576.3 L477.0 571.7 L471.7 568.0 L472.5 563.8Z" fill="#ffffc0" stroke="none"/>
<path d="M474.5 561.3 L477.5 556.3 L478.7 550.8 L485.3 545.8 L492.3 542.5M492.3 551.3 L490.0 553.0 L486.7 558.0 L488.3 564.7 L485.0 569.7 L481.7 575.5 L478.7 576.3 L477.0 571.7 L471.7 568.0 L472.5 563.8 L474.5 561.3" fill="none"/>
<path d="M459.2 546.7 L463.7 542.5 L471.7 537.5 L477.0 540.0 L483.7 536.7 L492.3 534.7 L492.3 542.2 L485.0 545.5 L478.3 550.5 L477.0 556.3 L474.2 561.3 L470.0 562.2 L466.7 558.0 L463.3 554.7 L460.3 551.3Z" fill="#d7191c" stroke="none"/>
<path d="M459.2 546.7 L463.7 542.5 L471.7 537.5 L477.0 540.0 L483.7 536.7 L492.3 534.7M492.3 542.2 L485.0 545.5 L478.3 550.5 L477.0 556.3 L474.2 561.3 L470.0 562.2 L466.7 558.0 L463.3 554.7 L460.3 551.3 L459.2 546.7" fill="none"/>
<path d="M465.0 552.2 L468.3 549.7 L473.3 548.8 L474.2 552.2 L470.0 553.3Z" fill="#ffffc0"/>
<path d="M227.7 479.7 L275.5 479.7 L281.0 484.2 L285.5 490.3 L278.0 492.5 L271.0 493.8 L268.0 492.5 L261.3 487.5 L253.0 487.0 L244.7 488.3 L236.3 487.5 L227.7 488.0Z" fill="#c4e687" stroke="none"/>
<path d="M275.5 479.7 L281.0 484.2 L285.5 490.3 L278.0 492.5 L271.0 493.8 L268.0 492.5 L261.3 487.5 L253.0 487.0 L244.7 488.3 L236.3 487.5 L227.7 488.0" fill="none"/>
<path d="M227.7 488.3 L236.3 487.5 L244.7 488.3 L253.0 487.0 L261.3 487.5 L268.0 492.5 L271.0 494.2 L275.0 497.8 L278.3 502.0 L282.7 506.7 L278.0 515.0 L274.7 520.0 L266.3 520.0 L258.0 521.7 L253.0 524.2 L244.7 516.7 L236.3 508.3 L230.5 500.0 L227.7 495.8Z" fill="#77c35c" stroke="none"/>
<path d="M227.7 488.3 L236.3 487.5 L244.7 488.3 L253.0 487.0 L261.3 487.5 L268.0 492.5 L271.0 494.2 L275.0 497.8 L278.3 502.0 L282.7 506.7 L278.0 515.0 L274.7 520.0 L266.3 520.0 L258.0 521.7 L253.0 524.2 L244.7 516.7 L236.3 508.3 L230.5 500.0 L227.7 495.8" fill="none"/>
<path d="M271.0 494.2 L278.0 492.5 L285.5 490.8 L292.2 489.2 L293.5 495.8 L288.3 505.0 L283.0 506.3 L278.0 501.7 L274.7 497.5Z" fill="#77c35c"/>
<path d="M274.7 520.0 L278.0 515.0 L283.0 506.7 L287.7 505.3 L286.7 508.7 L285.5 512.5 L288.0 512.0 L292.2 512.8 L293.0 516.2 L296.7 517.8 L301.3 519.5 L294.7 520.8 L284.7 520.3Z" fill="#c4e687"/>
<path d="M288.3 479.7 L320.5 479.7 L322.2 485.8 L319.2 489.2 L313.3 489.2 L306.7 486.7 L301.7 485.8 L294.2 488.3 L292.2 489.2 L287.5 485.0Z" fill="#c4e687" stroke="none"/>
<path d="M320.5 479.7 L322.2 485.8 L319.2 489.2 L313.3 489.2 L306.7 486.7 L301.7 485.8 L294.2 488.3 L292.2 489.2 L287.5 485.0 L288.3 479.7" fill="none"/>
<path d="M320.8 479.7 L334.7 479.7 L334.7 489.2 L328.0 489.7 L319.2 489.2 L322.5 485.8Z" fill="#77c35c" stroke="none"/>
<path d="M334.7 479.7 L334.7 489.2 L328.0 489.7 L319.2 489.2 L322.5 485.8 L320.8 479.7" fill="none"/>
<path d="M335.0 479.7 L348.0 479.7 L354.7 484.2 L361.3 485.0 L366.3 479.7 L376.3 479.7 L373.0 486.7 L366.3 492.5 L359.7 491.7 L351.3 490.3 L343.8 490.8 L334.7 489.5Z" fill="#77c35c" stroke="none"/>
<path d="M348.0 479.7 L354.7 484.2 L361.3 485.0 L366.3 479.7M376.3 479.7 L373.0 486.7 L366.3 492.5 L359.7 491.7 L351.3 490.3 L343.8 490.8 L334.7 489.5 L335.0 479.7" fill="none"/>
<path d="M348.3 479.7 L366.0 479.7 L361.3 484.7 L355.0 484.2Z" fill="#ffffc0" stroke="none"/>
<path d="M366.0 479.7 L361.3 484.7 L355.0 484.2 L348.3 479.7" fill="none"/>
<path d="M344.2 491.2 L351.7 490.7 L360.0 492.0 L366.7 492.8 L373.0 495.8 L378.0 501.7 L376.3 506.7 L371.3 510.0 L366.3 512.5 L363.0 516.7 L357.2 519.2 L351.7 517.5 L349.2 510.0 L346.7 500.0Z" fill="#c4e687"/>
<path d="M373.0 486.7 L376.3 484.2 L380.3 485.0 L380.3 491.7 L376.3 490.8Z" fill="#f07c4a" stroke="none"/>
<path d="M373.0 486.7 L376.3 484.2 L380.3 485.0M380.3 491.7 L376.3 490.8 L373.0 486.7" fill="none"/>
<path d="M369.7 488.3 L372.7 487.0 L376.3 491.2 L375.5 494.2 L373.0 495.5 L370.5 492.5Z" fill="#ffffc0"/>
<path d="M373.3 495.8 L375.8 494.2 L376.7 491.2 L380.3 492.0 L380.3 505.0 L378.0 501.7Z" fill="#c4e687" stroke="none"/>
<path d="M373.3 495.8 L375.8 494.2 L376.7 491.2 L380.3 492.0M380.3 505.0 L378.0 501.7 L373.3 495.8" fill="none"/>
<path d="M253.3 524.5 L258.3 522.0 L266.7 520.3 L268.0 525.0 L268.8 531.7 L272.2 536.7 L273.0 540.8 L266.3 543.3 L261.3 538.3 L255.5 530.0Z" fill="#77c35c"/>
<path d="M267.0 520.3 L275.0 520.3 L285.0 520.7 L295.0 521.2 L301.7 519.5 L303.8 522.5 L301.3 524.5 L298.0 528.7 L296.7 536.7 L289.7 535.8 L281.3 538.3 L273.3 540.5 L272.5 536.7 L269.2 531.7 L268.3 525.0Z" fill="#77c35c"/>
<path d="M318.3 553.3 L320.8 546.7 L322.5 542.3 L328.3 540.3 L336.3 537.8 L343.0 546.7 L348.0 553.3 L352.2 557.5 L334.7 558.3 L324.7 555.8Z" fill="#77c35c"/>
<path d="M336.7 537.8 L345.0 532.0 L351.7 528.7 L355.0 524.5 L357.5 519.5 L363.3 517.0 L366.7 512.8 L371.7 510.3 L376.7 507.0 L380.3 505.3 L380.3 560.0 L373.0 558.3 L368.0 555.0 L361.3 553.3 L355.0 556.7 L352.2 557.5 L348.3 553.3 L343.3 546.7Z" fill="#77c35c" stroke="none"/>
<path d="M336.7 537.8 L345.0 532.0 L351.7 528.7 L355.0 524.5 L357.5 519.5 L363.3 517.0 L366.7 512.8 L371.7 510.3 L376.7 507.0 L380.3 505.3M380.3 560.0 L373.0 558.3 L368.0 555.0 L361.3 553.3 L355.0 556.7 L352.2 557.5 L348.3 553.3 L343.3 546.7 L336.7 537.8" fill="none"/>
<path d="M355.0 557.0 L361.7 553.7 L368.3 555.3 L373.3 558.7 L380.3 560.3 L380.3 574.2 L369.7 571.7 L361.3 571.7 L359.7 565.0Z" fill="#c4e687" stroke="none"/>
<path d="M355.0 557.0 L361.7 553.7 L368.3 555.3 L373.3 558.7 L380.3 560.3M380.3 574.2 L369.7 571.7 L361.3 571.7 L359.7 565.0 L355.0 557.0" fill="none"/>
<path d="M288.0 505.0 L292.2 495.8 L293.8 488.3 L301.3 485.8 L306.3 486.7 L313.0 489.2 L318.8 489.2 L328.0 490.0 L343.8 490.8 L346.3 500.0 L348.8 510.0 L351.3 517.5 L357.2 519.2 L354.7 524.2 L351.3 528.3 L344.7 531.7 L336.3 537.5 L328.0 540.0 L322.2 542.0 L316.3 543.0 L308.0 541.7 L301.3 539.2 L296.7 536.7 L298.0 528.3 L301.3 524.2 L303.8 522.5 L301.3 519.2 L296.3 517.5 L293.0 515.8 L292.2 512.5 L288.0 511.7 L285.5 512.5 L287.2 508.3Z" fill="#d7191c"/>
<path d="M318.0 503.3 L320.5 501.7 L323.0 502.0 L323.3 505.0 L320.5 506.3 L318.8 505.3Z" fill="#ffffc0"/>
<path d="M451.7 483.3 L458.7 482.5 L465.3 485.0 L467.8 491.7 L463.7 496.7 L457.0 497.5 L451.7 495.0Z" fill="#77c35c" stroke="none"/>
<path d="M451.7 483.3 L458.7 482.5 L465.3 485.0 L467.8 491.7 L463.7 496.7 L457.0 497.5 L451.7 495.0" fill="none"/>
<path d="M451.7 497.5 L457.0 497.8 L459.5 505.0 L457.0 510.0 L451.7 512.5Z" fill="#77c35c" stroke="none"/>
<path d="M451.7 497.5 L457.0 497.8 L459.5 505.0 L457.0 510.0 L451.7 512.5" fill="none"/>
<path d="M473.7 479.7 L490.3 479.7 L496.2 486.7 L500.3 494.2 L493.7 497.5 L487.8 500.8 L486.2 504.2 L477.0 503.3 L468.7 504.2 L460.3 507.5 L459.8 505.0 L457.3 497.8 L464.0 496.7 L468.2 491.7 L465.7 485.0 L467.8 484.2Z" fill="#ffffc0" stroke="none"/>
<path d="M490.3 479.7 L496.2 486.7 L500.3 494.2 L493.7 497.5 L487.8 500.8 L486.2 504.2 L477.0 503.3 L468.7 504.2 L460.3 507.5 L459.8 505.0 L457.3 497.8 L464.0 496.7 L468.2 491.7 L465.7 485.0 L467.8 484.2 L473.7 479.7" fill="none"/>
<path d="M453.7 479.7 L473.7 479.7 L467.8 484.2 L465.3 485.0 L458.7 482.5Z" fill="#ffffc0" stroke="none"/>
<path d="M473.7 479.7 L467.8 484.2 L465.3 485.0 L458.7 482.5 L453.7 479.7" fill="none"/>
<path d="M490.7 479.7 L525.3 479.7 L526.2 485.0 L521.2 490.0 L514.5 495.8 L508.7 495.0 L500.7 494.2 L496.5 486.7Z" fill="#ffffc0" stroke="none"/>
<path d="M525.3 479.7 L526.2 485.0 L521.2 490.0 L514.5 495.8 L508.7 495.0 L500.7 494.2 L496.5 486.7 L490.7 479.7" fill="none"/>
<path d="M525.7 479.7 L578.7 479.7 L572.0 483.3 L567.0 488.3 L558.7 491.7 L552.0 495.8 L540.3 492.5 L532.0 487.5 L526.5 485.0Z" fill="#ffffc0" stroke="none"/>
<path d="M578.7 479.7 L572.0 483.3 L567.0 488.3 L558.7 491.7 L552.0 495.8 L540.3 492.5 L532.0 487.5 L526.5 485.0 L525.7 479.7" fill="none"/>
<path d="M488.2 500.8 L494.0 497.8 L500.7 494.5 L509.0 495.3 L514.5 496.2 L514.0 500.0 L510.3 505.0 L514.0 507.5 L513.7 510.8 L507.0 511.7 L500.3 513.3 L493.7 510.0 L489.5 506.7Z" fill="#77c35c"/>
<path d="M451.7 512.8 L457.0 510.3 L461.2 508.3 L466.2 510.8 L467.0 514.2 L462.8 520.0 L457.8 525.0 L451.7 524.2Z" fill="#fec981" stroke="none"/>
<path d="M451.7 512.8 L457.0 510.3 L461.2 508.3 L466.2 510.8 L467.0 514.2 L462.8 520.0 L457.8 525.0 L451.7 524.2" fill="none"/>
<path d="M461.5 508.3 L469.0 504.5 L477.3 503.7 L486.2 504.5 L489.8 507.0 L492.0 510.8 L489.5 514.2 L487.8 519.2 L485.3 523.7 L482.8 522.5 L477.0 517.5 L472.0 520.0 L466.2 522.5 L463.2 520.3 L467.3 514.2 L466.5 510.8Z" fill="#77c35c"/>
<path d="M451.7 524.7 L458.2 525.3 L463.2 520.7 L466.5 522.8 L472.3 520.3 L477.3 517.8 L483.2 522.8 L482.0 528.3 L477.0 533.3 L473.7 536.7 L467.0 539.2 L462.0 542.5 L458.7 546.7 L451.7 545.8Z" fill="#77c35c" stroke="none"/>
<path d="M451.7 524.7 L458.2 525.3 L463.2 520.7 L466.5 522.8 L472.3 520.3 L477.3 517.8 L483.2 522.8 L482.0 528.3 L477.0 533.3 L473.7 536.7 L467.0 539.2 L462.0 542.5 L458.7 546.7 L451.7 545.8" fill="none"/>
<path d="M474.0 537.0 L477.3 533.7 L482.3 528.7 L485.7 524.0 L488.7 528.3 L490.3 531.7 L492.8 535.0 L485.3 537.5 L478.7 540.0 L474.5 539.2Z" fill="#77c35c"/>
<path d="M487.3 523.7 L488.2 519.5 L489.8 514.5 L492.3 511.2 L494.0 510.3 L500.7 513.7 L507.3 512.0 L514.0 511.2 L515.3 516.7 L516.2 523.3 L513.7 527.5 L508.7 530.0 L502.0 532.5 L499.5 528.3 L496.2 525.0 L492.0 526.7Z" fill="#ffffc0"/>
<path d="M490.7 528.3 L496.2 525.0 L499.8 528.7 L502.0 532.5 L497.0 533.7 L492.8 532.5Z" fill="#c4e687"/>
<path d="M500.7 535.8 L502.3 532.8 L509.0 530.3 L511.2 533.3 L514.5 536.7 L517.8 540.8 L508.7 542.5 L502.8 543.3 L501.2 539.2Z" fill="#fec981"/>
<path d="M511.5 533.3 L514.0 527.8 L516.5 523.7 L515.7 516.7 L514.3 511.2 L514.0 507.8 L510.7 505.0 L514.3 500.3 L514.8 496.2 L521.5 490.3 L526.5 485.3 L532.3 487.8 L540.3 492.8 L537.8 500.0 L536.2 511.7 L540.3 520.0 L545.3 525.0 L553.7 528.3 L559.5 531.7 L562.5 536.7 L559.5 538.3 L558.7 545.0 L548.7 550.0 L540.3 550.8 L535.3 555.0 L530.3 560.0 L532.0 553.3 L530.7 545.0 L525.3 541.7 L520.3 540.0 L517.8 540.8 L514.8 536.7Z" fill="#77c35c"/>
<path d="M540.7 492.8 L552.0 496.2 L551.2 501.7 L554.5 506.7 L553.7 513.3 L558.7 521.7 L562.0 530.0 L562.5 536.3 L559.8 531.7 L554.0 528.3 L545.7 525.0 L540.7 520.0 L536.5 511.7 L538.2 500.0Z" fill="#ffffc0"/>
<path d="M522.0 553.3 L525.3 550.8 L530.3 549.2 L530.7 545.3 L532.0 553.3 L530.3 559.7 L523.7 559.7Z" fill="#ffffc0"/>
<path d="M477.3 555.0 L479.0 550.3 L484.8 546.2 L489.8 542.0 L494.0 541.2 L497.3 543.7 L502.0 544.2 L497.0 545.8 L494.5 550.0 L489.5 554.2 L486.2 558.3 L487.8 562.5 L484.5 568.3 L482.8 575.0 L481.2 576.7 L477.0 575.8 L475.3 570.0 L477.0 563.3 L478.2 560.0Z" fill="#ffffc0"/>
<path d="M458.7 547.0 L462.3 542.8 L467.3 539.5 L472.0 537.5 L474.5 539.5 L478.7 540.3 L485.3 537.8 L492.0 535.3 L495.7 536.7 L500.7 536.2 L501.5 539.5 L502.8 543.0 L497.0 543.3 L493.7 540.8 L489.5 541.7 L484.5 545.8 L478.7 550.0 L477.0 555.0 L477.8 560.0 L472.0 563.3 L467.8 560.0 L464.5 555.8 L461.2 553.3Z" fill="#d7191c"/>
<path d="M463.7 552.5 L467.8 550.0 L472.8 548.7 L473.7 552.0 L469.5 553.3 L465.3 554.7Z" fill="#ffffc0"/>
<path d="M451.7 553.3 L456.2 552.0 L461.2 553.7 L464.8 556.2 L468.2 560.3 L472.3 563.7 L471.2 566.7 L462.0 570.0 L455.3 567.5 L451.7 565.0Z" fill="#c4e687" stroke="none"/>
<path d="M451.7 553.3 L456.2 552.0 L461.2 553.7 L464.8 556.2 L468.2 560.3 L472.3 563.7 L471.2 566.7 L462.0 570.0 L455.3 567.5 L451.7 565.0" fill="none"/>
<path d="M461.5 570.8 L471.2 567.0 L475.0 570.0 L477.0 575.8 L468.7 577.5 L464.5 575.8Z" fill="#77c35c"/>
<path d="M452.8 572.5 L461.2 571.2 L464.5 576.2 L460.3 578.3 L451.7 579.2Z" fill="#ffffc0"/>
<path d="M451.7 565.3 L455.3 567.8 L462.0 570.3 L461.2 571.2 L452.8 572.5Z" fill="#77c35c"/>
<path d="M451.7 546.3 L458.7 547.0 L461.2 553.3 L456.2 552.0 L451.7 553.3Z" fill="#ffffc0" stroke="none"/>
<path d="M451.7 546.3 L458.7 547.0 L461.2 553.3 L456.2 552.0 L451.7 553.3" fill="none"/>
<path d="M339.7 411.5 L345.0 414.0 L343.3 419.0 L339.7 421.3Z" fill="#c4e687" stroke="none"/>
<path d="M339.7 411.5 L345.0 414.0 L343.3 419.0 L339.7 421.3" fill="none"/>
<path d="M180.0 258.0 L188.0 261.0 L195.0 262.0 L199.7 264.5 L198.8 273.7 L195.5 277.0 L188.0 273.7 L180.0 262.0Z" fill="#d7191c"/>
<path d="M421.7 111.0 L433.3 112.7 L447.5 116.7" fill="none"/>
<path d="M375.0 129.7 L384.7 139.7" fill="none"/>
<path d="M371.7 166.7 L390.0 173.3 L388.3 178.3" fill="none"/>
<path d="M390.0 173.3 L405.8 171.7" fill="none"/>
<path d="M372.5 175.0 L383.3 175.8 L389.2 178.3" fill="none"/>
<path d="M383.3 175.8 L386.7 193.3 L395.0 201.7" fill="none"/>
<path d="M399.2 183.3 L411.7 180.0 L420.0 175.8" fill="none"/>
<path d="M411.7 180.0 L410.0 193.3 L413.3 200.0" fill="none"/>
<path d="M416.7 186.7 L423.3 190.8" fill="none"/>
<path d="M413.3 148.3 L418.3 153.3 L433.3 153.3" fill="none"/>
<path d="M418.3 153.3 L420.0 158.3 L431.7 157.5 L438.3 161.7" fill="none"/>
<path d="M431.7 164.2 L438.3 173.3 L440.8 170.8" fill="none"/>
<path d="M438.3 173.3 L437.5 180.0" fill="none"/>
<path d="M448.3 130.8 L450.0 146.7 L456.7 156.7 L455.0 163.3" fill="none"/>
<path d="M450.0 133.3 L468.3 133.3" fill="none"/>
<path d="M456.7 165.0 L463.3 162.5 L471.7 157.5" fill="none"/>
<path d="M463.3 162.5 L468.3 169.2" fill="none"/>
<path d="M448.3 168.3 L450.0 178.3 L456.7 183.3" fill="none"/>
<path d="M426.7 142.5 L430.0 148.3 L440.0 150.8" fill="none"/>
<path d="M433.3 137.5 L446.7 138.3 L449.2 141.7" fill="none"/>
<path d="M329.7 240.3 L340.0 235.3" fill="none"/>
<path d="M295.5 289.5 L311.3 297.0 L326.3 303.7" fill="none"/>
<path d="M311.3 297.0 L340.0 287.0" fill="none"/>
<path d="M309.7 271.2 L326.3 265.3 L329.7 254.0" fill="none"/>
<path d="M356.7 207.0 L361.7 217.0 L371.7 223.7 L378.3 224.5" fill="none"/>
<path d="M371.7 207.0 L373.3 218.7" fill="none"/>
<path d="M395.0 207.0 L396.7 213.7 L390.0 218.7 L395.0 223.7" fill="none"/>
<path d="M396.7 213.7 L413.3 218.7" fill="none"/>
<path d="M378.3 224.5 L380.0 242.8" fill="none"/>
<path d="M378.3 224.5 L390.0 218.7" fill="none"/>
<path d="M418.3 221.2 L435.0 207.0" fill="none"/>
<path d="M470.0 212.0 L468.3 207.0" fill="none"/>
<path d="M562.0 234.5 L565.3 250.3" fill="none"/>
<path d="M592.0 235.3 L600.3 242.8 L601.2 252.0 L593.7 257.0" fill="none"/>
<path d="M582.8 251.2 L598.7 242.8" fill="none"/>
<path d="M455.0 349.3 L456.7 357.3 L446.7 369.0 L445.8 379.8" fill="none"/>
<path d="M439.7 359.3 L450.0 362.3 L456.7 357.3" fill="none"/>
<path d="M473.3 354.0 L471.7 340.7 L459.2 335.7" fill="none"/>
<path d="M471.7 340.7 L483.3 334.0 L492.0 330.7" fill="none"/>
<path d="M468.3 314.0 L470.0 324.0 L461.7 322.3" fill="none"/>
<path d="M470.0 324.0 L481.7 320.7 L483.3 334.0" fill="none"/>
<path d="M481.7 320.7 L483.3 314.0" fill="none"/>
<path d="M471.7 340.7 L492.0 345.7" fill="none"/>
<path d="M459.5 345.7 L471.7 347.3" fill="none"/>
<path d="M385.0 401.5 L387.5 393.2" fill="none"/>
<path d="M508.7 314.0 L510.3 321.5 L507.8 326.5" fill="none"/>
<path d="M510.3 321.5 L530.3 315.7 L532.0 314.0" fill="none"/>
<path d="M513.7 330.7 L547.0 320.7" fill="none"/>
<path d="M492.0 324.0 L502.0 325.7 L508.7 326.5" fill="none"/>
<path d="M492.0 335.7 L502.0 334.0" fill="none"/>
<path d="M492.0 346.5 L506.2 347.3" fill="none"/>
<path d="M233.0 463.5 L238.0 468.5 L241.3 473.5 L236.3 478.5 L228.0 480.2 L223.8 478.5" fill="none"/>
<path d="M408.3 425.2 L415.0 424.3 L420.8 426.8 L418.3 429.3 L410.0 429.0 L408.3 425.2" fill="none"/>
<path d="M409.2 426.8 L420.0 428.0" fill="none"/>
<path d="M465.3 525.2 L473.3 521.0 L478.3 517.7 L483.3 524.3" fill="none"/>
<path d="M513.7 421.0 L514.5 425.2 L521.2 423.5 L522.0 421.0" fill="none"/>
<path d="M522.0 422.7 L523.7 427.7 L530.3 427.3 L532.0 421.0" fill="none"/>
<path d="M510.3 461.0 L513.7 465.2 L515.3 469.3 L518.7 471.8" fill="none"/>
<path d="M356.3 546.7 L361.3 542.5 L371.3 539.2 L380.0 537.5" fill="none"/>
<path d="M357.2 546.7 L359.7 553.3 L366.3 550.0 L380.0 546.7" fill="none"/>
<path d="M364.7 518.3 L369.7 523.3 L380.0 528.3" fill="none"/>
<path d="M321.3 505.8 L326.3 506.7 L327.2 508.3" fill="none"/>
<path d="M446.0 285.0 L456.0 295.0 L464.3 292.5 L466.0 288.3" fill="none"/>
<path d="M456.0 295.0 L455.2 303.3 L462.7 308.3 L471.0 315.0" fill="none"/>
<path d="M464.3 292.5 L471.0 303.3 L482.7 311.7 L486.0 309.2" fill="none"/>
<path d="M455.2 309.2 L466.0 318.3 L472.7 316.7" fill="none"/>
<path d="M471.0 315.0 L474.3 320.0 L471.0 325.0 L464.3 325.0" fill="none"/>
<path d="M474.3 320.0 L482.7 318.3 L482.7 311.7" fill="none"/>
<path d="M482.7 318.3 L484.3 326.7 L482.7 336.7 L472.7 341.7" fill="none"/>
<path d="M484.3 326.7 L494.3 321.7 L496.0 315.0" fill="none"/>
<path d="M494.3 321.7 L502.7 325.0 L507.7 318.3" fill="none"/>
<path d="M502.7 325.0 L499.3 335.0 L489.3 336.7 L482.7 336.7" fill="none"/>
<path d="M499.3 335.0 L502.7 340.0 L501.0 348.3" fill="none"/>
<path d="M472.7 341.7 L482.7 346.7 L502.7 348.3" fill="none"/>
<path d="M457.7 331.7 L467.7 336.7 L472.7 341.7" fill="none"/>
<path d="M457.7 331.7 L461.0 325.0 L464.3 325.0" fill="none"/>
<path d="M459.3 341.7 L471.0 343.3" fill="none"/>
<path d="M457.7 348.3 L456.0 356.7 L447.7 366.7" fill="none"/>
<path d="M437.7 350.0 L456.0 350.0" fill="none"/>
<path d="M507.7 318.3 L516.0 320.0 L531.0 313.3 L532.7 318.3 L514.3 328.3" fill="none"/>
<path d="M516.0 320.0 L514.3 328.3 L519.3 331.7" fill="none"/>
<path d="M532.7 318.3 L549.3 318.3" fill="none"/>
</g>
<path d="M277.3 161.5 L279.8 154.0 L289.8 148.5 L308.5 146.8 L312.0 149.0 L326.0 149.8 L334.8 146.0 L338.5 149.8 L343.5 147.8 L361.0 145.5 L364.8 141.0 L367.0 133.5 L376.0 129.0 L387.0 126.0 L391.0 121.0 L402.0 118.5 L404.0 115.0 L411.5 111.5 L420.0 111.0 L422.8 106.5 L429.0 104.8 L437.8 106.5 L444.0 113.0 L449.0 114.0 L446.5 118.0 L455.0 119.0 L458.5 121.8 L455.0 127.0 L457.8 131.0 L467.8 133.0 L472.8 138.5 L479.0 142.0 L487.8 143.5 L491.5 136.0 L500.0 133.0 L504.0 131.0 L510.0 130.0 L513.0 136.0 L511.5 142.0 L519.5 142.0 L530.0 141.5 L536.5 146.0 L544.0 152.0 L545.0 156.0 L554.0 157.0 L564.0 159.0 L571.5 158.5 L575.0 152.0 L581.5 149.0 L589.0 148.5 L596.5 146.8 L594.0 153.5 L595.0 161.0 L594.0 167.0 L597.8 173.5 L591.5 177.0 L590.0 180.0 L591.5 188.5 L592.8 198.5 L589.0 208.5 L587.8 218.5 L596.5 217.8 L605.0 220.0 L607.0 225.0 L603.0 231.0 L601.0 235.0 L603.0 240.0 L614.0 243.5 L616.0 240.0 L623.5 236.0 L630.0 235.0 L631.0 241.0 L635.0 251.0 L631.0 256.0 L632.0 261.0 L628.5 265.0 L625.0 272.5 L631.0 279.0 L648.5 294.0 L656.0 301.0 L666.0 310.0 L673.5 312.5 L686.0 316.0 L695.0 312.0 L706.0 309.0 L720.0 301.0 L724.0 307.5 L720.0 315.0 L717.0 324.0 L708.5 326.0 L712.0 335.0 L718.5 346.0 L728.5 354.0 L726.0 355.5 L716.0 351.0 L696.0 350.5 L692.0 357.5 L687.0 362.5 L686.0 369.0 L693.5 375.0 L692.0 377.5 L683.5 380.0 L672.0 376.0 L668.5 379.0 L673.5 386.0 L676.0 394.0 L692.0 397.5 L691.0 409.0 L678.5 407.5 L672.0 417.5 L668.5 427.5 L663.5 435.0 L650.0 439.0 L642.0 442.0 L630.0 440.0 L628.5 447.5 L616.0 454.0 L605.0 460.0 L603.5 466.0 L588.5 471.0 L581.0 480.0 L568.5 487.5 L566.5 489.0 L553.0 495.5 L551.5 503.0 L555.0 508.0 L554.0 515.5 L560.0 525.5 L563.0 535.5 L559.0 538.0 L558.0 547.0 L546.5 550.5 L535.0 552.0 L529.0 560.5 L523.0 559.0 L521.5 553.0 L529.0 548.0 L528.0 542.0 L521.5 540.0 L518.0 542.0 L509.0 543.0 L502.5 542.8 L495.0 546.5 L488.8 555.0 L485.0 566.5 L480.0 575.0 L476.0 574.0 L463.8 577.8 L453.8 579.0 L443.8 581.5 L437.5 586.5 L432.5 584.0 L422.5 581.5 L413.8 579.0 L405.0 575.0 L403.8 567.8 L395.0 566.5 L386.0 565.0 L381.0 574.0 L372.5 571.5 L362.5 571.5 L360.0 565.0 L355.0 557.8 L335.0 557.8 L320.0 555.0 L317.5 552.8 L322.5 544.0 L315.0 542.8 L300.0 537.8 L297.0 535.5 L286.0 538.0 L278.5 540.5 L267.0 543.0 L258.5 534.0 L253.5 523.0 L248.5 516.8 L236.0 505.5 L226.0 496.8 L220.0 492.5 L223.5 489.0 L222.0 483.0 L226.0 473.0 L233.5 464.0 L233.5 460.5 L231.0 455.5 L232.0 440.5 L236.0 436.8 L251.0 429.0 L256.0 423.0 L266.0 418.0 L274.8 405.8 L281.0 393.0 L287.0 382.0 L292.0 378.0 L286.0 373.0 L278.5 367.0 L263.5 365.8 L256.0 367.0 L254.8 360.8 L258.5 350.8 L251.0 349.5 L239.8 347.0 L236.0 339.5 L239.8 335.8 L234.8 332.0 L229.8 324.5 L222.0 317.0 L222.0 308.0 L224.8 300.8 L219.8 295.8 L212.0 293.0 L208.5 288.0 L209.8 285.0 L201.0 283.0 L196.0 277.0 L186.0 270.8 L181.0 262.0 L183.5 260.0 L198.5 264.0 L221.0 264.5 L226.0 260.8 L241.0 260.8 L253.5 259.0 L261.0 260.8 L276.0 259.5 L279.8 257.0 L284.8 246.0 L286.0 234.8 L294.8 226.0 L301.0 223.5 L301.0 213.5 L306.0 198.5 L311.0 196.0 L301.0 184.8 L298.5 179.8 L281.0 172.0Z" fill="none" stroke-width="1.2"/>
</g>
<rect x="777" y="490.7" width="22" height="12" fill="#1a9641" stroke="#222" stroke-width="1"/>
<rect x="777" y="509.1" width="22" height="12" fill="#77c35c" stroke="#222" stroke-width="1"/>
<rect x="777" y="527.5" width="22" height="12" fill="#c4e687" stroke="#222" stroke-width="1"/>
<rect x="777" y="546.0" width="22" height="12" fill="#ffffc0" stroke="#222" stroke-width="1"/>
<rect x="777" y="564.4" width="22" height="12" fill="#fec981" stroke="#222" stroke-width="1"/>
<rect x="777" y="582.8" width="22" height="12" fill="#f07c4a" stroke="#222" stroke-width="1"/>
<rect x="777" y="601.2" width="22" height="12" fill="#d7191c" stroke="#222" stroke-width="1"/>
</svg>
<div class="t" id="title">PROYECTO #1calle1nombre</div>
<div class="t" id="date">Fecha de los datos: 6/2/2019</div>
<div class="t" id="reg">Extremadura</div>
<div class="t" id="leg">Leyenda</div>
<div class="t li" style="top:490.5px">Finalizado</div>
<div class="t li" style="top:508.9px">1% - 10%</div>
<div class="t li" style="top:527.3px">10% - 20%</div>
<div class="t li" style="top:545.8px">20% - 40%</div>
<div class="t li" style="top:564.2px">40% - 60%</div>
<div class="t li" style="top:582.6px">60% - 80%</div>
<div class="t li" style="top:601.0px">80% - 100%</div>
</body></html>
